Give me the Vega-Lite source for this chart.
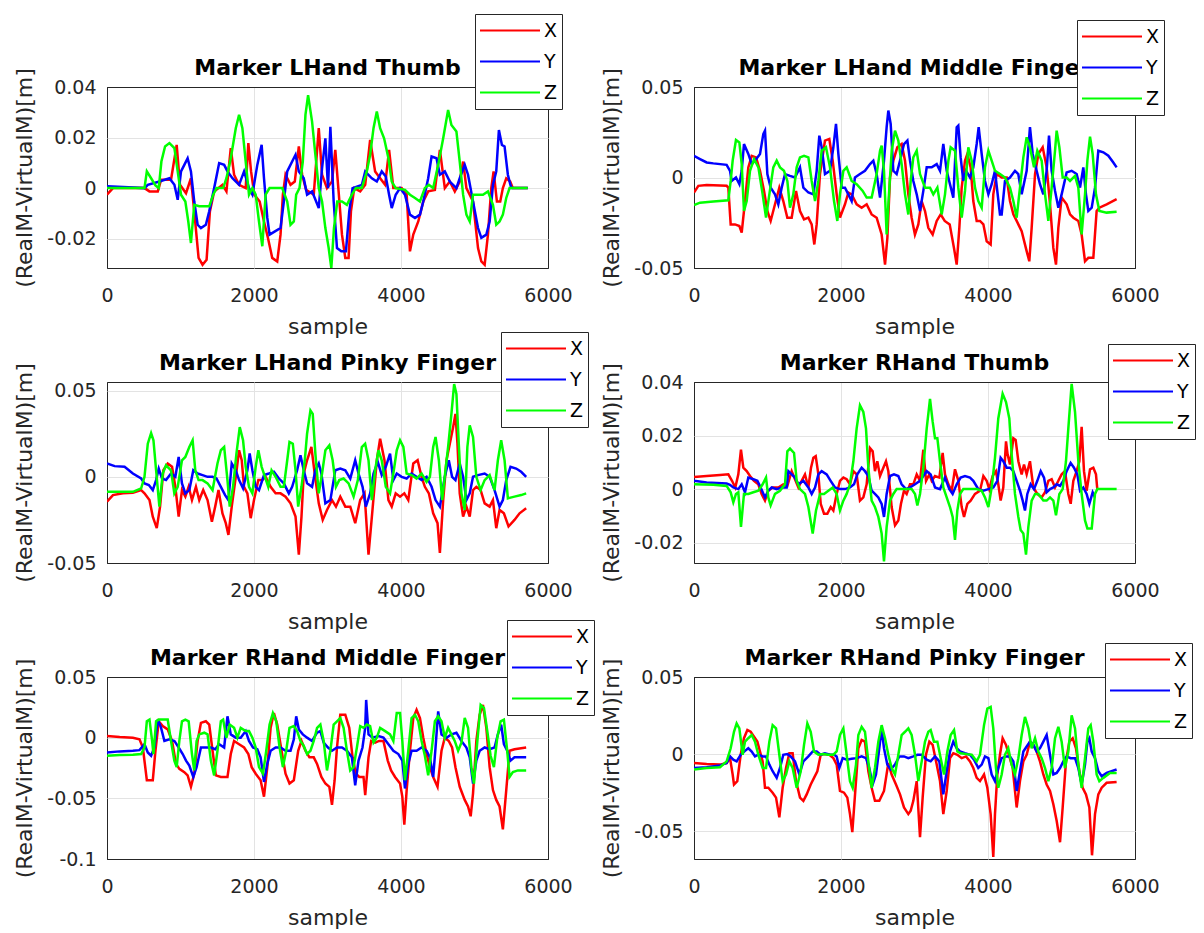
{
"$schema":"https://vega.github.io/schema/vega-lite/v6.json",
"background":"white",
"padding":{"left":13,"top":13,"right":5,"bottom":5},
"config":{
"font":"DejaVu Sans",
"view":{"stroke":"#262626","strokeWidth":1},
"axis":{"domain":false,"ticks":false,"grid":true,"gridWidth":1,"labelFont":"DejaVu Sans","labelFontSize":19,"labelColor":"#262626","labelFlush":false,"labelOverlap":false,"titleFont":"DejaVu Sans","titleFontSize":22,"titleFontWeight":"normal","titleColor":"#262626"},
"axisX":{"labelPadding":18,"titlePadding":11},
"axisY":{"labelPadding":11,"titlePadding":10},
"title":{"font":"DejaVu Sans","fontSize":22,"fontWeight":"bold","color":"#000000","anchor":"middle","frame":"group","baseline":"alphabetic"},
"legend":{"symbolType":"stroke","symbolSize":3600,"symbolStrokeWidth":2,"labelFont":"DejaVu Sans","labelFontSize":19,"labelColor":"#000000","fillColor":"white","strokeColor":"#262626","padding":4,"rowPadding":6,"clipHeight":25,"labelOffset":3,"symbolOffset":0}
},
"datasets":{
"p1":[
{"s":0,"v":-0.0026,"c":"X"},{"s":81,"v":0,"c":"X"},{"s":510,"v":0,"c":"X"},{"s":578,"v":-0.0013,"c":"X"},{"s":691,"v":-0.0013,"c":"X"},{"s":736,"v":0.0033,"c":"X"},{"s":871,"v":0.0033,"c":"X"},{"s":948,"v":0.0171,"c":"X"},{"s":993,"v":0.0013,"c":"X"},{"s":1075,"v":-0.002,"c":"X"},{"s":1142,"v":0.0039,"c":"X"},{"s":1187,"v":-0.0092,"c":"X"},{"s":1246,"v":-0.0276,"c":"X"},{"s":1300,"v":-0.0303,"c":"X"},{"s":1355,"v":-0.0283,"c":"X"},{"s":1400,"v":-0.0092,"c":"X"},{"s":1458,"v":-0.0013,"c":"X"},{"s":1571,"v":0.0013,"c":"X"},{"s":1625,"v":-0.0013,"c":"X"},{"s":1684,"v":0.0158,"c":"X"},{"s":1729,"v":0.0053,"c":"X"},{"s":1797,"v":0.0013,"c":"X"},{"s":1887,"v":0,"c":"X"},{"s":1923,"v":0.0178,"c":"X"},{"s":1960,"v":0.0066,"c":"X"},{"s":2005,"v":-0.0026,"c":"X"},{"s":2077,"v":-0.0053,"c":"X"},{"s":2136,"v":-0.0132,"c":"X"},{"s":2190,"v":-0.0197,"c":"X"},{"s":2248,"v":-0.0276,"c":"X"},{"s":2316,"v":-0.029,"c":"X"},{"s":2361,"v":-0.0184,"c":"X"},{"s":2393,"v":-0.0026,"c":"X"},{"s":2429,"v":0.0053,"c":"X"},{"s":2497,"v":0.0013,"c":"X"},{"s":2555,"v":0.0026,"c":"X"},{"s":2610,"v":0.0165,"c":"X"},{"s":2655,"v":0.0053,"c":"X"},{"s":2709,"v":-0.0007,"c":"X"},{"s":2813,"v":-0.0026,"c":"X"},{"s":2881,"v":0.0237,"c":"X"},{"s":2926,"v":0.0053,"c":"X"},{"s":2993,"v":0,"c":"X"},{"s":3061,"v":0.0026,"c":"X"},{"s":3106,"v":0.0151,"c":"X"},{"s":3151,"v":-0.0013,"c":"X"},{"s":3197,"v":-0.0184,"c":"X"},{"s":3242,"v":-0.0276,"c":"X"},{"s":3287,"v":-0.0276,"c":"X"},{"s":3319,"v":-0.0092,"c":"X"},{"s":3364,"v":0,"c":"X"},{"s":3445,"v":-0.0013,"c":"X"},{"s":3513,"v":0.0013,"c":"X"},{"s":3580,"v":0.0191,"c":"X"},{"s":3648,"v":0.0066,"c":"X"},{"s":3716,"v":0.0039,"c":"X"},{"s":3784,"v":0.0013,"c":"X"},{"s":3838,"v":0.0151,"c":"X"},{"s":3896,"v":0,"c":"X"},{"s":4009,"v":0,"c":"X"},{"s":4077,"v":-0.0026,"c":"X"},{"s":4122,"v":-0.025,"c":"X"},{"s":4167,"v":-0.0184,"c":"X"},{"s":4235,"v":-0.0132,"c":"X"},{"s":4303,"v":-0.0053,"c":"X"},{"s":4370,"v":-0.0013,"c":"X"},{"s":4461,"v":-0.0007,"c":"X"},{"s":4529,"v":0.0151,"c":"X"},{"s":4596,"v":0,"c":"X"},{"s":4664,"v":0.0026,"c":"X"},{"s":4732,"v":-0.0013,"c":"X"},{"s":4799,"v":0.0026,"c":"X"},{"s":4845,"v":0.0105,"c":"X"},{"s":4890,"v":0,"c":"X"},{"s":4980,"v":-0.0053,"c":"X"},{"s":5048,"v":-0.0237,"c":"X"},{"s":5093,"v":-0.029,"c":"X"},{"s":5138,"v":-0.0303,"c":"X"},{"s":5183,"v":-0.0184,"c":"X"},{"s":5228,"v":0,"c":"X"},{"s":5260,"v":0.0066,"c":"X"},{"s":5305,"v":-0.0053,"c":"X"},{"s":5350,"v":-0.0053,"c":"X"},{"s":5386,"v":0,"c":"X"},{"s":5432,"v":0.0039,"c":"X"},{"s":5486,"v":0.0026,"c":"X"},{"s":5522,"v":0,"c":"X"},{"s":5725,"v":0,"c":"X"},
{"s":0,"v":0.0007,"c":"Y"},{"s":510,"v":0,"c":"Y"},{"s":555,"v":0.0013,"c":"Y"},{"s":713,"v":0.0026,"c":"Y"},{"s":849,"v":0.0039,"c":"Y"},{"s":917,"v":0.0013,"c":"Y"},{"s":962,"v":-0.0046,"c":"Y"},{"s":1007,"v":0.0066,"c":"Y"},{"s":1052,"v":0.0092,"c":"Y"},{"s":1097,"v":0.0118,"c":"Y"},{"s":1142,"v":0.0066,"c":"Y"},{"s":1187,"v":-0.0053,"c":"Y"},{"s":1233,"v":-0.0145,"c":"Y"},{"s":1278,"v":-0.0158,"c":"Y"},{"s":1345,"v":-0.0145,"c":"Y"},{"s":1391,"v":-0.0092,"c":"Y"},{"s":1458,"v":0,"c":"Y"},{"s":1526,"v":0.0099,"c":"Y"},{"s":1594,"v":0.0092,"c":"Y"},{"s":1639,"v":0.0066,"c":"Y"},{"s":1707,"v":0.0039,"c":"Y"},{"s":1797,"v":0.0013,"c":"Y"},{"s":1865,"v":0.0066,"c":"Y"},{"s":1932,"v":0,"c":"Y"},{"s":1978,"v":-0.0026,"c":"Y"},{"s":2045,"v":0.0092,"c":"Y"},{"s":2104,"v":0.0171,"c":"Y"},{"s":2136,"v":0.0039,"c":"Y"},{"s":2181,"v":-0.0118,"c":"Y"},{"s":2212,"v":-0.0184,"c":"Y"},{"s":2285,"v":-0.0171,"c":"Y"},{"s":2361,"v":-0.0158,"c":"Y"},{"s":2406,"v":-0.0053,"c":"Y"},{"s":2452,"v":0.0066,"c":"Y"},{"s":2565,"v":0.0132,"c":"Y"},{"s":2610,"v":0.0066,"c":"Y"},{"s":2677,"v":0.0039,"c":"Y"},{"s":2722,"v":-0.0026,"c":"Y"},{"s":2790,"v":-0.0013,"c":"Y"},{"s":2881,"v":-0.0079,"c":"Y"},{"s":2926,"v":0.0079,"c":"Y"},{"s":2971,"v":0.0197,"c":"Y"},{"s":3007,"v":0,"c":"Y"},{"s":3039,"v":0.0243,"c":"Y"},{"s":3084,"v":-0.0053,"c":"Y"},{"s":3129,"v":-0.0237,"c":"Y"},{"s":3188,"v":-0.025,"c":"Y"},{"s":3251,"v":-0.025,"c":"Y"},{"s":3296,"v":-0.0092,"c":"Y"},{"s":3341,"v":0,"c":"Y"},{"s":3468,"v":0.0013,"c":"Y"},{"s":3513,"v":0.0066,"c":"Y"},{"s":3603,"v":0.0039,"c":"Y"},{"s":3671,"v":0.0026,"c":"Y"},{"s":3738,"v":0.0066,"c":"Y"},{"s":3793,"v":0.0046,"c":"Y"},{"s":3838,"v":-0.0026,"c":"Y"},{"s":3874,"v":-0.0079,"c":"Y"},{"s":3928,"v":-0.0026,"c":"Y"},{"s":3987,"v":0,"c":"Y"},{"s":4054,"v":-0.0026,"c":"Y"},{"s":4122,"v":-0.0105,"c":"Y"},{"s":4190,"v":-0.0118,"c":"Y"},{"s":4258,"v":-0.0105,"c":"Y"},{"s":4303,"v":-0.0053,"c":"Y"},{"s":4370,"v":0.0039,"c":"Y"},{"s":4416,"v":0.0125,"c":"Y"},{"s":4483,"v":0.0118,"c":"Y"},{"s":4529,"v":0.0053,"c":"Y"},{"s":4596,"v":0.0066,"c":"Y"},{"s":4664,"v":0.0026,"c":"Y"},{"s":4754,"v":0,"c":"Y"},{"s":4799,"v":0.0039,"c":"Y"},{"s":4867,"v":0.0092,"c":"Y"},{"s":4912,"v":0.0053,"c":"Y"},{"s":4980,"v":-0.0053,"c":"Y"},{"s":5048,"v":-0.0158,"c":"Y"},{"s":5093,"v":-0.0197,"c":"Y"},{"s":5161,"v":-0.0184,"c":"Y"},{"s":5206,"v":-0.0132,"c":"Y"},{"s":5251,"v":0.0013,"c":"Y"},{"s":5296,"v":0.0066,"c":"Y"},{"s":5332,"v":0.023,"c":"Y"},{"s":5373,"v":0.0171,"c":"Y"},{"s":5409,"v":0.0165,"c":"Y"},{"s":5454,"v":0.0053,"c":"Y"},{"s":5500,"v":0,"c":"Y"},{"s":5725,"v":0,"c":"Y"},
{"s":0,"v":0,"c":"Z"},{"s":510,"v":0,"c":"Z"},{"s":542,"v":0.0066,"c":"Z"},{"s":600,"v":0.0039,"c":"Z"},{"s":659,"v":0.0011,"c":"Z"},{"s":704,"v":0,"c":"Z"},{"s":740,"v":0.0105,"c":"Z"},{"s":790,"v":0.0165,"c":"Z"},{"s":849,"v":0.0178,"c":"Z"},{"s":917,"v":0.0158,"c":"Z"},{"s":962,"v":0.0066,"c":"Z"},{"s":1007,"v":-0.0026,"c":"Z"},{"s":1066,"v":-0.0053,"c":"Z"},{"s":1106,"v":-0.0132,"c":"Z"},{"s":1142,"v":-0.0217,"c":"Z"},{"s":1187,"v":-0.0066,"c":"Z"},{"s":1255,"v":-0.0072,"c":"Z"},{"s":1391,"v":-0.0072,"c":"Z"},{"s":1445,"v":-0.0026,"c":"Z"},{"s":1490,"v":0,"c":"Z"},{"s":1580,"v":0,"c":"Z"},{"s":1625,"v":0.0039,"c":"Z"},{"s":1684,"v":0.0118,"c":"Z"},{"s":1752,"v":0.0237,"c":"Z"},{"s":1797,"v":0.029,"c":"Z"},{"s":1842,"v":0.0237,"c":"Z"},{"s":1887,"v":0.0105,"c":"Z"},{"s":1932,"v":-0.0026,"c":"Z"},{"s":1978,"v":0,"c":"Z"},{"s":2023,"v":-0.0026,"c":"Z"},{"s":2068,"v":-0.0132,"c":"Z"},{"s":2113,"v":-0.023,"c":"Z"},{"s":2158,"v":-0.0026,"c":"Z"},{"s":2212,"v":0,"c":"Z"},{"s":2384,"v":0,"c":"Z"},{"s":2452,"v":-0.0053,"c":"Z"},{"s":2497,"v":-0.0145,"c":"Z"},{"s":2542,"v":-0.0132,"c":"Z"},{"s":2574,"v":-0.0026,"c":"Z"},{"s":2619,"v":0,"c":"Z"},{"s":2664,"v":0.0105,"c":"Z"},{"s":2700,"v":0.029,"c":"Z"},{"s":2736,"v":0.0368,"c":"Z"},{"s":2790,"v":0.0263,"c":"Z"},{"s":2835,"v":0.0132,"c":"Z"},{"s":2881,"v":0,"c":"Z"},{"s":2926,"v":-0.0053,"c":"Z"},{"s":2971,"v":-0.0158,"c":"Z"},{"s":3016,"v":-0.0237,"c":"Z"},{"s":3052,"v":-0.0316,"c":"Z"},{"s":3088,"v":-0.0158,"c":"Z"},{"s":3133,"v":-0.0053,"c":"Z"},{"s":3197,"v":-0.0053,"c":"Z"},{"s":3264,"v":-0.0066,"c":"Z"},{"s":3332,"v":-0.0026,"c":"Z"},{"s":3386,"v":0,"c":"Z"},{"s":3468,"v":0,"c":"Z"},{"s":3535,"v":0.0066,"c":"Z"},{"s":3580,"v":0.0132,"c":"Z"},{"s":3626,"v":0.0237,"c":"Z"},{"s":3671,"v":0.0303,"c":"Z"},{"s":3716,"v":0.0237,"c":"Z"},{"s":3770,"v":0.0197,"c":"Z"},{"s":3829,"v":0.0118,"c":"Z"},{"s":3874,"v":0.0026,"c":"Z"},{"s":3928,"v":0,"c":"Z"},{"s":4054,"v":-0.0007,"c":"Z"},{"s":4122,"v":-0.0026,"c":"Z"},{"s":4190,"v":-0.0039,"c":"Z"},{"s":4258,"v":-0.0053,"c":"Z"},{"s":4325,"v":0,"c":"Z"},{"s":4379,"v":0.0013,"c":"Z"},{"s":4438,"v":0,"c":"Z"},{"s":4506,"v":0.0092,"c":"Z"},{"s":4574,"v":0.0197,"c":"Z"},{"s":4641,"v":0.0309,"c":"Z"},{"s":4686,"v":0.025,"c":"Z"},{"s":4754,"v":0.0224,"c":"Z"},{"s":4799,"v":0.0105,"c":"Z"},{"s":4845,"v":-0.0026,"c":"Z"},{"s":4890,"v":-0.0105,"c":"Z"},{"s":4935,"v":-0.0132,"c":"Z"},{"s":4980,"v":-0.0026,"c":"Z"},{"s":5115,"v":-0.0026,"c":"Z"},{"s":5183,"v":-0.0013,"c":"Z"},{"s":5251,"v":-0.0066,"c":"Z"},{"s":5296,"v":-0.0145,"c":"Z"},{"s":5341,"v":-0.0132,"c":"Z"},{"s":5386,"v":-0.0105,"c":"Z"},{"s":5432,"v":-0.0039,"c":"Z"},{"s":5477,"v":0,"c":"Z"},{"s":5725,"v":0,"c":"Z"}
],
"p2":[
{"s":0,"v":-0.0083,"c":"X"},{"s":59,"v":-0.0046,"c":"X"},{"s":172,"v":-0.0041,"c":"X"},{"s":444,"v":-0.0046,"c":"X"},{"s":467,"v":-0.0056,"c":"X"},{"s":499,"v":-0.0259,"c":"X"},{"s":558,"v":-0.0259,"c":"X"},{"s":617,"v":-0.0268,"c":"X"},{"s":649,"v":-0.0305,"c":"X"},{"s":694,"v":-0.013,"c":"X"},{"s":739,"v":0.0056,"c":"X"},{"s":785,"v":0.012,"c":"X"},{"s":844,"v":0.0111,"c":"X"},{"s":898,"v":0.0037,"c":"X"},{"s":953,"v":-0.0074,"c":"X"},{"s":998,"v":-0.0185,"c":"X"},{"s":1043,"v":-0.024,"c":"X"},{"s":1102,"v":-0.0148,"c":"X"},{"s":1161,"v":-0.0056,"c":"X"},{"s":1215,"v":-0.013,"c":"X"},{"s":1270,"v":-0.0222,"c":"X"},{"s":1329,"v":-0.0222,"c":"X"},{"s":1388,"v":-0.0074,"c":"X"},{"s":1442,"v":-0.0185,"c":"X"},{"s":1497,"v":-0.0231,"c":"X"},{"s":1556,"v":-0.0222,"c":"X"},{"s":1601,"v":-0.0259,"c":"X"},{"s":1637,"v":-0.037,"c":"X"},{"s":1669,"v":-0.0259,"c":"X"},{"s":1714,"v":0.0019,"c":"X"},{"s":1782,"v":0.0204,"c":"X"},{"s":1841,"v":0.0213,"c":"X"},{"s":1887,"v":0.0093,"c":"X"},{"s":1941,"v":-0.0093,"c":"X"},{"s":1986,"v":-0.0222,"c":"X"},{"s":2054,"v":-0.0148,"c":"X"},{"s":2100,"v":-0.0083,"c":"X"},{"s":2145,"v":-0.0093,"c":"X"},{"s":2213,"v":-0.0148,"c":"X"},{"s":2281,"v":-0.0167,"c":"X"},{"s":2349,"v":-0.0148,"c":"X"},{"s":2417,"v":-0.0204,"c":"X"},{"s":2485,"v":-0.0222,"c":"X"},{"s":2553,"v":-0.0315,"c":"X"},{"s":2599,"v":-0.0481,"c":"X"},{"s":2631,"v":-0.0333,"c":"X"},{"s":2667,"v":0,"c":"X"},{"s":2712,"v":0.0093,"c":"X"},{"s":2766,"v":0.0167,"c":"X"},{"s":2825,"v":0.0185,"c":"X"},{"s":2871,"v":0.0093,"c":"X"},{"s":2916,"v":-0.0093,"c":"X"},{"s":2961,"v":-0.0222,"c":"X"},{"s":3006,"v":-0.0315,"c":"X"},{"s":3052,"v":-0.0259,"c":"X"},{"s":3097,"v":-0.013,"c":"X"},{"s":3143,"v":-0.0185,"c":"X"},{"s":3188,"v":-0.0278,"c":"X"},{"s":3247,"v":-0.0315,"c":"X"},{"s":3302,"v":-0.024,"c":"X"},{"s":3356,"v":-0.0204,"c":"X"},{"s":3411,"v":-0.024,"c":"X"},{"s":3479,"v":-0.0259,"c":"X"},{"s":3537,"v":-0.0389,"c":"X"},{"s":3574,"v":-0.0481,"c":"X"},{"s":3610,"v":-0.0278,"c":"X"},{"s":3642,"v":-0.0056,"c":"X"},{"s":3687,"v":0.0093,"c":"X"},{"s":3719,"v":0.013,"c":"X"},{"s":3764,"v":0.0056,"c":"X"},{"s":3800,"v":-0.013,"c":"X"},{"s":3846,"v":-0.024,"c":"X"},{"s":3891,"v":-0.024,"c":"X"},{"s":3937,"v":-0.0259,"c":"X"},{"s":3982,"v":-0.0352,"c":"X"},{"s":4036,"v":-0.037,"c":"X"},{"s":4072,"v":-0.0093,"c":"X"},{"s":4118,"v":0.0019,"c":"X"},{"s":4186,"v":0,"c":"X"},{"s":4254,"v":0,"c":"X"},{"s":4299,"v":-0.013,"c":"X"},{"s":4345,"v":-0.0204,"c":"X"},{"s":4390,"v":-0.024,"c":"X"},{"s":4458,"v":-0.0296,"c":"X"},{"s":4526,"v":-0.0407,"c":"X"},{"s":4562,"v":-0.0463,"c":"X"},{"s":4594,"v":-0.0278,"c":"X"},{"s":4640,"v":0.0019,"c":"X"},{"s":4685,"v":0.013,"c":"X"},{"s":4744,"v":0.0167,"c":"X"},{"s":4798,"v":0.0056,"c":"X"},{"s":4844,"v":-0.0148,"c":"X"},{"s":4889,"v":-0.0389,"c":"X"},{"s":4925,"v":-0.0481,"c":"X"},{"s":4957,"v":-0.0278,"c":"X"},{"s":5002,"v":-0.0111,"c":"X"},{"s":5070,"v":-0.0148,"c":"X"},{"s":5116,"v":-0.0204,"c":"X"},{"s":5161,"v":-0.0222,"c":"X"},{"s":5229,"v":-0.024,"c":"X"},{"s":5274,"v":-0.0315,"c":"X"},{"s":5320,"v":-0.0463,"c":"X"},{"s":5365,"v":-0.0444,"c":"X"},{"s":5433,"v":-0.0444,"c":"X"},{"s":5478,"v":-0.0185,"c":"X"},{"s":5515,"v":-0.0167,"c":"X"},{"s":5614,"v":-0.0148,"c":"X"},{"s":5750,"v":-0.012,"c":"X"},
{"s":0,"v":0.012,"c":"Y"},{"s":82,"v":0.0102,"c":"Y"},{"s":172,"v":0.0083,"c":"Y"},{"s":263,"v":0.0078,"c":"Y"},{"s":444,"v":0.007,"c":"Y"},{"s":490,"v":0.0037,"c":"Y"},{"s":512,"v":-0.0019,"c":"Y"},{"s":571,"v":0,"c":"Y"},{"s":617,"v":-0.0037,"c":"Y"},{"s":649,"v":0.0037,"c":"Y"},{"s":680,"v":0.0185,"c":"Y"},{"s":739,"v":0.013,"c":"Y"},{"s":785,"v":0.0074,"c":"Y"},{"s":830,"v":0.0093,"c":"Y"},{"s":898,"v":0.013,"c":"Y"},{"s":943,"v":0.024,"c":"Y"},{"s":966,"v":0.0259,"c":"Y"},{"s":998,"v":0.0019,"c":"Y"},{"s":1043,"v":-0.0056,"c":"Y"},{"s":1102,"v":-0.0093,"c":"Y"},{"s":1147,"v":-0.0148,"c":"Y"},{"s":1193,"v":-0.0056,"c":"Y"},{"s":1238,"v":0.0019,"c":"Y"},{"s":1306,"v":0.0009,"c":"Y"},{"s":1374,"v":0,"c":"Y"},{"s":1442,"v":0.0056,"c":"Y"},{"s":1488,"v":-0.0056,"c":"Y"},{"s":1556,"v":-0.0083,"c":"Y"},{"s":1624,"v":-0.0093,"c":"Y"},{"s":1669,"v":0.0037,"c":"Y"},{"s":1705,"v":0.0231,"c":"Y"},{"s":1737,"v":0.0167,"c":"Y"},{"s":1782,"v":0.0019,"c":"Y"},{"s":1850,"v":0.0037,"c":"Y"},{"s":1896,"v":0.0167,"c":"Y"},{"s":1932,"v":0.0296,"c":"Y"},{"s":1964,"v":0.013,"c":"Y"},{"s":2009,"v":-0.0056,"c":"Y"},{"s":2054,"v":-0.0056,"c":"Y"},{"s":2100,"v":-0.0093,"c":"Y"},{"s":2145,"v":-0.013,"c":"Y"},{"s":2190,"v":0,"c":"Y"},{"s":2258,"v":0.0019,"c":"Y"},{"s":2326,"v":0.0037,"c":"Y"},{"s":2395,"v":0.0074,"c":"Y"},{"s":2440,"v":0.0093,"c":"Y"},{"s":2485,"v":0.0019,"c":"Y"},{"s":2531,"v":-0.0111,"c":"Y"},{"s":2585,"v":0.0093,"c":"Y"},{"s":2621,"v":0.0278,"c":"Y"},{"s":2644,"v":0.037,"c":"Y"},{"s":2676,"v":0.0296,"c":"Y"},{"s":2712,"v":0.0037,"c":"Y"},{"s":2757,"v":0.0019,"c":"Y"},{"s":2803,"v":0.0093,"c":"Y"},{"s":2857,"v":0.0185,"c":"Y"},{"s":2903,"v":0.0204,"c":"Y"},{"s":2939,"v":0.0093,"c":"Y"},{"s":2984,"v":-0.0019,"c":"Y"},{"s":3030,"v":-0.0093,"c":"Y"},{"s":3075,"v":-0.0185,"c":"Y"},{"s":3120,"v":-0.0074,"c":"Y"},{"s":3166,"v":0.0056,"c":"Y"},{"s":3234,"v":0.0056,"c":"Y"},{"s":3302,"v":0.0074,"c":"Y"},{"s":3347,"v":0.0037,"c":"Y"},{"s":3392,"v":0.0185,"c":"Y"},{"s":3438,"v":0.0037,"c":"Y"},{"s":3483,"v":-0.0037,"c":"Y"},{"s":3528,"v":-0.0111,"c":"Y"},{"s":3574,"v":0.0278,"c":"Y"},{"s":3596,"v":0.0287,"c":"Y"},{"s":3628,"v":0.0111,"c":"Y"},{"s":3664,"v":-0.0019,"c":"Y"},{"s":3701,"v":0.0037,"c":"Y"},{"s":3755,"v":0,"c":"Y"},{"s":3800,"v":0.0056,"c":"Y"},{"s":3846,"v":0.0185,"c":"Y"},{"s":3873,"v":0.0278,"c":"Y"},{"s":3914,"v":0.013,"c":"Y"},{"s":3959,"v":-0.0019,"c":"Y"},{"s":4005,"v":-0.0093,"c":"Y"},{"s":4050,"v":-0.0037,"c":"Y"},{"s":4095,"v":0.0037,"c":"Y"},{"s":4163,"v":-0.0204,"c":"Y"},{"s":4186,"v":-0.0204,"c":"Y"},{"s":4231,"v":-0.0019,"c":"Y"},{"s":4299,"v":0,"c":"Y"},{"s":4367,"v":0.0037,"c":"Y"},{"s":4412,"v":0.0019,"c":"Y"},{"s":4458,"v":-0.0093,"c":"Y"},{"s":4526,"v":0.0037,"c":"Y"},{"s":4571,"v":0.0278,"c":"Y"},{"s":4608,"v":0.013,"c":"Y"},{"s":4662,"v":0.0037,"c":"Y"},{"s":4707,"v":-0.0037,"c":"Y"},{"s":4753,"v":-0.0093,"c":"Y"},{"s":4798,"v":0.0037,"c":"Y"},{"s":4830,"v":0.0231,"c":"Y"},{"s":4866,"v":0.0037,"c":"Y"},{"s":4912,"v":-0.0074,"c":"Y"},{"s":4957,"v":-0.0167,"c":"Y"},{"s":5002,"v":-0.0093,"c":"Y"},{"s":5070,"v":0.0028,"c":"Y"},{"s":5138,"v":0.0037,"c":"Y"},{"s":5206,"v":0.0019,"c":"Y"},{"s":5252,"v":-0.0056,"c":"Y"},{"s":5297,"v":0.0056,"c":"Y"},{"s":5333,"v":-0.0093,"c":"Y"},{"s":5365,"v":-0.0185,"c":"Y"},{"s":5411,"v":-0.0167,"c":"Y"},{"s":5456,"v":-0.0056,"c":"Y"},{"s":5501,"v":0.0148,"c":"Y"},{"s":5569,"v":0.0139,"c":"Y"},{"s":5637,"v":0.012,"c":"Y"},{"s":5705,"v":0.0083,"c":"Y"},{"s":5750,"v":0.0056,"c":"Y"},
{"s":0,"v":-0.0152,"c":"Z"},{"s":82,"v":-0.0139,"c":"Z"},{"s":263,"v":-0.0133,"c":"Z"},{"s":467,"v":-0.0126,"c":"Z"},{"s":499,"v":-0.0019,"c":"Z"},{"s":526,"v":0.0093,"c":"Z"},{"s":571,"v":0.0207,"c":"Z"},{"s":617,"v":0.0194,"c":"Z"},{"s":649,"v":0.0074,"c":"Z"},{"s":680,"v":-0.0185,"c":"Z"},{"s":717,"v":-0.013,"c":"Z"},{"s":762,"v":0.0037,"c":"Z"},{"s":817,"v":0.0102,"c":"Z"},{"s":876,"v":0.0056,"c":"Z"},{"s":934,"v":-0.0093,"c":"Z"},{"s":980,"v":-0.0222,"c":"Z"},{"s":1025,"v":-0.0093,"c":"Z"},{"s":1079,"v":0.0056,"c":"Z"},{"s":1125,"v":0.0093,"c":"Z"},{"s":1170,"v":0.0056,"c":"Z"},{"s":1224,"v":0.0037,"c":"Z"},{"s":1270,"v":-0.0019,"c":"Z"},{"s":1306,"v":-0.0167,"c":"Z"},{"s":1351,"v":-0.0093,"c":"Z"},{"s":1397,"v":0.0056,"c":"Z"},{"s":1442,"v":0.0111,"c":"Z"},{"s":1497,"v":0.012,"c":"Z"},{"s":1556,"v":0.0111,"c":"Z"},{"s":1601,"v":-0.0019,"c":"Z"},{"s":1647,"v":-0.013,"c":"Z"},{"s":1692,"v":-0.0019,"c":"Z"},{"s":1737,"v":0.0148,"c":"Z"},{"s":1796,"v":0.0167,"c":"Z"},{"s":1850,"v":0.0056,"c":"Z"},{"s":1905,"v":-0.013,"c":"Z"},{"s":1950,"v":-0.024,"c":"Z"},{"s":1986,"v":-0.0093,"c":"Z"},{"s":2032,"v":0.0037,"c":"Z"},{"s":2077,"v":0.0056,"c":"Z"},{"s":2145,"v":-0.0019,"c":"Z"},{"s":2213,"v":-0.0037,"c":"Z"},{"s":2295,"v":-0.0074,"c":"Z"},{"s":2349,"v":-0.0111,"c":"Z"},{"s":2417,"v":-0.0111,"c":"Z"},{"s":2485,"v":0.0019,"c":"Z"},{"s":2531,"v":0.0148,"c":"Z"},{"s":2553,"v":0.0176,"c":"Z"},{"s":2585,"v":0.0037,"c":"Z"},{"s":2621,"v":-0.0315,"c":"Z"},{"s":2658,"v":-0.0056,"c":"Z"},{"s":2690,"v":0.0148,"c":"Z"},{"s":2735,"v":0.0259,"c":"Z"},{"s":2780,"v":0.0204,"c":"Z"},{"s":2825,"v":0.0074,"c":"Z"},{"s":2871,"v":-0.0093,"c":"Z"},{"s":2916,"v":-0.0204,"c":"Z"},{"s":2948,"v":-0.0019,"c":"Z"},{"s":2984,"v":0.0111,"c":"Z"},{"s":3030,"v":0.0148,"c":"Z"},{"s":3075,"v":0.0019,"c":"Z"},{"s":3143,"v":-0.0056,"c":"Z"},{"s":3211,"v":-0.0056,"c":"Z"},{"s":3256,"v":-0.0093,"c":"Z"},{"s":3311,"v":-0.0056,"c":"Z"},{"s":3370,"v":-0.0204,"c":"Z"},{"s":3415,"v":-0.0093,"c":"Z"},{"s":3461,"v":0.0093,"c":"Z"},{"s":3492,"v":0.0167,"c":"Z"},{"s":3551,"v":0.0148,"c":"Z"},{"s":3596,"v":-0.0056,"c":"Z"},{"s":3642,"v":-0.0222,"c":"Z"},{"s":3687,"v":-0.0074,"c":"Z"},{"s":3732,"v":0.0167,"c":"Z"},{"s":3778,"v":0.0093,"c":"Z"},{"s":3823,"v":-0.0056,"c":"Z"},{"s":3868,"v":-0.013,"c":"Z"},{"s":3914,"v":-0.0167,"c":"Z"},{"s":3959,"v":0.0056,"c":"Z"},{"s":4005,"v":0.0148,"c":"Z"},{"s":4050,"v":0.0093,"c":"Z"},{"s":4095,"v":0.0037,"c":"Z"},{"s":4163,"v":0.0019,"c":"Z"},{"s":4231,"v":0,"c":"Z"},{"s":4299,"v":-0.0056,"c":"Z"},{"s":4345,"v":-0.013,"c":"Z"},{"s":4390,"v":-0.0222,"c":"Z"},{"s":4435,"v":-0.0056,"c":"Z"},{"s":4481,"v":0.0111,"c":"Z"},{"s":4526,"v":0.0222,"c":"Z"},{"s":4571,"v":0.0167,"c":"Z"},{"s":4626,"v":0.0056,"c":"Z"},{"s":4671,"v":0.0148,"c":"Z"},{"s":4730,"v":0.0093,"c":"Z"},{"s":4776,"v":-0.0093,"c":"Z"},{"s":4821,"v":-0.024,"c":"Z"},{"s":4866,"v":-0.0056,"c":"Z"},{"s":4912,"v":0.0148,"c":"Z"},{"s":4934,"v":0.0259,"c":"Z"},{"s":4971,"v":0.0167,"c":"Z"},{"s":5016,"v":0,"c":"Z"},{"s":5070,"v":0,"c":"Z"},{"s":5116,"v":-0.0019,"c":"Z"},{"s":5184,"v":0.0009,"c":"Z"},{"s":5229,"v":-0.0056,"c":"Z"},{"s":5274,"v":-0.0315,"c":"Z"},{"s":5320,"v":-0.0093,"c":"Z"},{"s":5352,"v":0.0093,"c":"Z"},{"s":5388,"v":0.0226,"c":"Z"},{"s":5424,"v":0.013,"c":"Z"},{"s":5469,"v":-0.0093,"c":"Z"},{"s":5515,"v":-0.0185,"c":"Z"},{"s":5614,"v":-0.0194,"c":"Z"},{"s":5750,"v":-0.0189,"c":"Z"}
],
"p3":[
{"s":0,"v":-0.0144,"c":"X"},{"s":81,"v":-0.0106,"c":"X"},{"s":217,"v":-0.0096,"c":"X"},{"s":352,"v":-0.0092,"c":"X"},{"s":465,"v":-0.0077,"c":"X"},{"s":510,"v":-0.0096,"c":"X"},{"s":578,"v":-0.0135,"c":"X"},{"s":623,"v":-0.0231,"c":"X"},{"s":677,"v":-0.0298,"c":"X"},{"s":722,"v":-0.0173,"c":"X"},{"s":767,"v":0.0038,"c":"X"},{"s":826,"v":0.0077,"c":"X"},{"s":885,"v":0.0058,"c":"X"},{"s":930,"v":-0.0058,"c":"X"},{"s":975,"v":-0.0231,"c":"X"},{"s":1020,"v":-0.0077,"c":"X"},{"s":1066,"v":-0.0115,"c":"X"},{"s":1111,"v":-0.0058,"c":"X"},{"s":1156,"v":-0.0135,"c":"X"},{"s":1210,"v":-0.0058,"c":"X"},{"s":1255,"v":-0.0135,"c":"X"},{"s":1309,"v":-0.0077,"c":"X"},{"s":1368,"v":-0.0135,"c":"X"},{"s":1427,"v":-0.026,"c":"X"},{"s":1472,"v":-0.0173,"c":"X"},{"s":1517,"v":-0.0077,"c":"X"},{"s":1571,"v":-0.0212,"c":"X"},{"s":1616,"v":-0.0269,"c":"X"},{"s":1652,"v":-0.0337,"c":"X"},{"s":1697,"v":-0.0173,"c":"X"},{"s":1752,"v":0,"c":"X"},{"s":1797,"v":0.0154,"c":"X"},{"s":1833,"v":0.0096,"c":"X"},{"s":1864,"v":-0.0058,"c":"X"},{"s":1910,"v":-0.0096,"c":"X"},{"s":1955,"v":-0.024,"c":"X"},{"s":2000,"v":-0.0135,"c":"X"},{"s":2059,"v":-0.0019,"c":"X"},{"s":2113,"v":-0.0019,"c":"X"},{"s":2158,"v":0,"c":"X"},{"s":2226,"v":-0.0058,"c":"X"},{"s":2294,"v":-0.0096,"c":"X"},{"s":2361,"v":-0.0096,"c":"X"},{"s":2429,"v":-0.0115,"c":"X"},{"s":2497,"v":-0.0154,"c":"X"},{"s":2565,"v":-0.0231,"c":"X"},{"s":2610,"v":-0.0452,"c":"X"},{"s":2646,"v":-0.0231,"c":"X"},{"s":2677,"v":0.0019,"c":"X"},{"s":2722,"v":0.0096,"c":"X"},{"s":2781,"v":0.0173,"c":"X"},{"s":2826,"v":0.0019,"c":"X"},{"s":2881,"v":-0.0154,"c":"X"},{"s":2935,"v":-0.025,"c":"X"},{"s":2993,"v":-0.0192,"c":"X"},{"s":3061,"v":-0.0135,"c":"X"},{"s":3115,"v":-0.0173,"c":"X"},{"s":3174,"v":-0.0115,"c":"X"},{"s":3242,"v":-0.0173,"c":"X"},{"s":3310,"v":-0.0173,"c":"X"},{"s":3377,"v":-0.0269,"c":"X"},{"s":3445,"v":-0.0135,"c":"X"},{"s":3504,"v":-0.0096,"c":"X"},{"s":3558,"v":-0.0452,"c":"X"},{"s":3612,"v":-0.0192,"c":"X"},{"s":3671,"v":0.0096,"c":"X"},{"s":3716,"v":0.0221,"c":"X"},{"s":3775,"v":0.0096,"c":"X"},{"s":3829,"v":-0.0135,"c":"X"},{"s":3874,"v":-0.0173,"c":"X"},{"s":3928,"v":-0.0096,"c":"X"},{"s":3987,"v":-0.0115,"c":"X"},{"s":4045,"v":-0.0096,"c":"X"},{"s":4099,"v":-0.0135,"c":"X"},{"s":4167,"v":0.0077,"c":"X"},{"s":4226,"v":0.0096,"c":"X"},{"s":4280,"v":0,"c":"X"},{"s":4325,"v":-0.0058,"c":"X"},{"s":4379,"v":-0.0096,"c":"X"},{"s":4438,"v":-0.0212,"c":"X"},{"s":4497,"v":-0.0269,"c":"X"},{"s":4529,"v":-0.0442,"c":"X"},{"s":4574,"v":-0.0135,"c":"X"},{"s":4619,"v":0.0096,"c":"X"},{"s":4664,"v":0.0192,"c":"X"},{"s":4709,"v":0.0288,"c":"X"},{"s":4741,"v":0.0365,"c":"X"},{"s":4768,"v":0.0192,"c":"X"},{"s":4799,"v":-0.0096,"c":"X"},{"s":4845,"v":-0.0231,"c":"X"},{"s":4890,"v":-0.0173,"c":"X"},{"s":4935,"v":-0.0231,"c":"X"},{"s":4980,"v":-0.0077,"c":"X"},{"s":5025,"v":-0.0058,"c":"X"},{"s":5083,"v":-0.0077,"c":"X"},{"s":5138,"v":-0.0154,"c":"X"},{"s":5206,"v":-0.0173,"c":"X"},{"s":5251,"v":-0.0135,"c":"X"},{"s":5296,"v":-0.0298,"c":"X"},{"s":5341,"v":-0.0192,"c":"X"},{"s":5400,"v":-0.0212,"c":"X"},{"s":5463,"v":-0.0288,"c":"X"},{"s":5544,"v":-0.025,"c":"X"},{"s":5613,"v":-0.0212,"c":"X"},{"s":5703,"v":-0.0183,"c":"X"},
{"s":0,"v":0.0077,"c":"Y"},{"s":104,"v":0.0062,"c":"Y"},{"s":239,"v":0.0058,"c":"Y"},{"s":352,"v":0.0019,"c":"Y"},{"s":465,"v":-0.001,"c":"Y"},{"s":510,"v":-0.0038,"c":"Y"},{"s":569,"v":-0.0048,"c":"Y"},{"s":623,"v":-0.0077,"c":"Y"},{"s":668,"v":-0.0019,"c":"Y"},{"s":704,"v":0.0048,"c":"Y"},{"s":749,"v":-0.001,"c":"Y"},{"s":803,"v":-0.0019,"c":"Y"},{"s":871,"v":0.0019,"c":"Y"},{"s":930,"v":0,"c":"Y"},{"s":975,"v":0.0115,"c":"Y"},{"s":1020,"v":-0.0038,"c":"Y"},{"s":1066,"v":-0.0096,"c":"Y"},{"s":1120,"v":-0.0077,"c":"Y"},{"s":1174,"v":0.0038,"c":"Y"},{"s":1233,"v":0.0019,"c":"Y"},{"s":1300,"v":0.001,"c":"Y"},{"s":1368,"v":0,"c":"Y"},{"s":1436,"v":0,"c":"Y"},{"s":1490,"v":-0.001,"c":"Y"},{"s":1549,"v":-0.0058,"c":"Y"},{"s":1607,"v":-0.0106,"c":"Y"},{"s":1652,"v":-0.0135,"c":"Y"},{"s":1697,"v":0.0077,"c":"Y"},{"s":1752,"v":0.0038,"c":"Y"},{"s":1797,"v":-0.0019,"c":"Y"},{"s":1851,"v":-0.0067,"c":"Y"},{"s":1910,"v":0.0038,"c":"Y"},{"s":1941,"v":0.0135,"c":"Y"},{"s":1978,"v":0.0038,"c":"Y"},{"s":2023,"v":-0.0058,"c":"Y"},{"s":2068,"v":-0.0077,"c":"Y"},{"s":2136,"v":0.001,"c":"Y"},{"s":2203,"v":0.0019,"c":"Y"},{"s":2271,"v":0.0029,"c":"Y"},{"s":2339,"v":-0.001,"c":"Y"},{"s":2406,"v":-0.0038,"c":"Y"},{"s":2474,"v":-0.0096,"c":"Y"},{"s":2519,"v":-0.0058,"c":"Y"},{"s":2587,"v":0.0038,"c":"Y"},{"s":2632,"v":0.0125,"c":"Y"},{"s":2677,"v":0.0038,"c":"Y"},{"s":2722,"v":-0.0038,"c":"Y"},{"s":2790,"v":-0.0058,"c":"Y"},{"s":2835,"v":0.0038,"c":"Y"},{"s":2881,"v":0.0077,"c":"Y"},{"s":2917,"v":0.0019,"c":"Y"},{"s":2971,"v":-0.0154,"c":"Y"},{"s":3039,"v":-0.0135,"c":"Y"},{"s":3106,"v":0.0038,"c":"Y"},{"s":3174,"v":0.0048,"c":"Y"},{"s":3242,"v":0.0038,"c":"Y"},{"s":3310,"v":-0.001,"c":"Y"},{"s":3377,"v":0.0096,"c":"Y"},{"s":3422,"v":0.0019,"c":"Y"},{"s":3477,"v":-0.0058,"c":"Y"},{"s":3522,"v":-0.0173,"c":"Y"},{"s":3580,"v":-0.0096,"c":"Y"},{"s":3626,"v":0.0019,"c":"Y"},{"s":3684,"v":0.0087,"c":"Y"},{"s":3738,"v":0.001,"c":"Y"},{"s":3793,"v":0.0058,"c":"Y"},{"s":3851,"v":0.0135,"c":"Y"},{"s":3896,"v":-0.0019,"c":"Y"},{"s":3942,"v":0.0019,"c":"Y"},{"s":4009,"v":0,"c":"Y"},{"s":4077,"v":-0.001,"c":"Y"},{"s":4144,"v":0.0019,"c":"Y"},{"s":4212,"v":0,"c":"Y"},{"s":4280,"v":-0.0019,"c":"Y"},{"s":4348,"v":0,"c":"Y"},{"s":4416,"v":-0.0058,"c":"Y"},{"s":4470,"v":-0.0135,"c":"Y"},{"s":4529,"v":-0.0173,"c":"Y"},{"s":4596,"v":0,"c":"Y"},{"s":4650,"v":0.0096,"c":"Y"},{"s":4695,"v":0,"c":"Y"},{"s":4741,"v":-0.0019,"c":"Y"},{"s":4799,"v":0.0077,"c":"Y"},{"s":4845,"v":0,"c":"Y"},{"s":4890,"v":-0.0135,"c":"Y"},{"s":4935,"v":-0.0096,"c":"Y"},{"s":4980,"v":0,"c":"Y"},{"s":5048,"v":0.001,"c":"Y"},{"s":5138,"v":0.0019,"c":"Y"},{"s":5206,"v":0,"c":"Y"},{"s":5273,"v":-0.0077,"c":"Y"},{"s":5341,"v":-0.0173,"c":"Y"},{"s":5386,"v":-0.0135,"c":"Y"},{"s":5432,"v":-0.0019,"c":"Y"},{"s":5490,"v":0.0058,"c":"Y"},{"s":5567,"v":0.0048,"c":"Y"},{"s":5635,"v":0.0029,"c":"Y"},{"s":5703,"v":0,"c":"Y"},
{"s":0,"v":-0.0087,"c":"Z"},{"s":172,"v":-0.0087,"c":"Z"},{"s":352,"v":-0.0087,"c":"Z"},{"s":465,"v":-0.0067,"c":"Z"},{"s":510,"v":0,"c":"Z"},{"s":555,"v":0.0192,"c":"Z"},{"s":600,"v":0.0254,"c":"Z"},{"s":632,"v":0.0212,"c":"Z"},{"s":668,"v":0.0038,"c":"Z"},{"s":713,"v":-0.0173,"c":"Z"},{"s":758,"v":0.0019,"c":"Z"},{"s":803,"v":0.0067,"c":"Z"},{"s":871,"v":0.0038,"c":"Z"},{"s":916,"v":-0.0096,"c":"Z"},{"s":962,"v":-0.0058,"c":"Z"},{"s":1020,"v":0.0096,"c":"Z"},{"s":1066,"v":0.0115,"c":"Z"},{"s":1120,"v":0.0173,"c":"Z"},{"s":1165,"v":0.0212,"c":"Z"},{"s":1201,"v":0.0038,"c":"Z"},{"s":1246,"v":-0.0019,"c":"Z"},{"s":1300,"v":-0.0019,"c":"Z"},{"s":1368,"v":-0.0038,"c":"Z"},{"s":1436,"v":-0.0077,"c":"Z"},{"s":1503,"v":0.0077,"c":"Z"},{"s":1549,"v":0.0154,"c":"Z"},{"s":1594,"v":0.0173,"c":"Z"},{"s":1639,"v":-0.0019,"c":"Z"},{"s":1670,"v":-0.0173,"c":"Z"},{"s":1715,"v":-0.0058,"c":"Z"},{"s":1761,"v":0.0135,"c":"Z"},{"s":1806,"v":0.0288,"c":"Z"},{"s":1851,"v":0.0212,"c":"Z"},{"s":1887,"v":0.0058,"c":"Z"},{"s":1932,"v":-0.0058,"c":"Z"},{"s":1978,"v":-0.0096,"c":"Z"},{"s":2023,"v":0.0058,"c":"Z"},{"s":2059,"v":0.0154,"c":"Z"},{"s":2104,"v":0.0058,"c":"Z"},{"s":2149,"v":0,"c":"Z"},{"s":2194,"v":-0.0058,"c":"Z"},{"s":2239,"v":0.0038,"c":"Z"},{"s":2294,"v":0,"c":"Z"},{"s":2361,"v":-0.0058,"c":"Z"},{"s":2406,"v":-0.0058,"c":"Z"},{"s":2452,"v":0.0096,"c":"Z"},{"s":2483,"v":0.0202,"c":"Z"},{"s":2528,"v":0.0192,"c":"Z"},{"s":2565,"v":0.0038,"c":"Z"},{"s":2601,"v":-0.0173,"c":"Z"},{"s":2646,"v":-0.0058,"c":"Z"},{"s":2691,"v":0.0096,"c":"Z"},{"s":2722,"v":0.025,"c":"Z"},{"s":2768,"v":0.0385,"c":"Z"},{"s":2799,"v":0.0365,"c":"Z"},{"s":2835,"v":0.0135,"c":"Z"},{"s":2881,"v":-0.0096,"c":"Z"},{"s":2926,"v":0.0019,"c":"Z"},{"s":2971,"v":0.0154,"c":"Z"},{"s":3025,"v":0.0183,"c":"Z"},{"s":3070,"v":0.0096,"c":"Z"},{"s":3115,"v":-0.0058,"c":"Z"},{"s":3160,"v":-0.0019,"c":"Z"},{"s":3219,"v":-0.001,"c":"Z"},{"s":3287,"v":-0.0038,"c":"Z"},{"s":3355,"v":-0.0115,"c":"Z"},{"s":3413,"v":-0.0019,"c":"Z"},{"s":3467,"v":0.0173,"c":"Z"},{"s":3512,"v":0.0192,"c":"Z"},{"s":3558,"v":0.0096,"c":"Z"},{"s":3603,"v":-0.0135,"c":"Z"},{"s":3648,"v":0.0038,"c":"Z"},{"s":3693,"v":0.0154,"c":"Z"},{"s":3738,"v":0.0096,"c":"Z"},{"s":3793,"v":-0.0058,"c":"Z"},{"s":3851,"v":-0.0096,"c":"Z"},{"s":3896,"v":0.0019,"c":"Z"},{"s":3942,"v":0.0154,"c":"Z"},{"s":3987,"v":0.0212,"c":"Z"},{"s":4032,"v":0.0173,"c":"Z"},{"s":4077,"v":0.0019,"c":"Z"},{"s":4144,"v":0.001,"c":"Z"},{"s":4212,"v":-0.001,"c":"Z"},{"s":4280,"v":0.0019,"c":"Z"},{"s":4348,"v":-0.0029,"c":"Z"},{"s":4393,"v":0,"c":"Z"},{"s":4438,"v":0.0173,"c":"Z"},{"s":4470,"v":0.0231,"c":"Z"},{"s":4515,"v":0.0096,"c":"Z"},{"s":4560,"v":-0.0135,"c":"Z"},{"s":4605,"v":0.0038,"c":"Z"},{"s":4641,"v":0.0173,"c":"Z"},{"s":4686,"v":0.0365,"c":"Z"},{"s":4723,"v":0.0538,"c":"Z"},{"s":4754,"v":0.0481,"c":"Z"},{"s":4786,"v":0.0192,"c":"Z"},{"s":4822,"v":-0.0096,"c":"Z"},{"s":4867,"v":-0.0192,"c":"Z"},{"s":4903,"v":0.0173,"c":"Z"},{"s":4935,"v":0.0298,"c":"Z"},{"s":4980,"v":0.0231,"c":"Z"},{"s":5025,"v":0,"c":"Z"},{"s":5083,"v":-0.0077,"c":"Z"},{"s":5138,"v":-0.0019,"c":"Z"},{"s":5206,"v":0.001,"c":"Z"},{"s":5273,"v":-0.0077,"c":"Z"},{"s":5318,"v":0.0096,"c":"Z"},{"s":5363,"v":0.0212,"c":"Z"},{"s":5409,"v":0.0096,"c":"Z"},{"s":5454,"v":-0.0125,"c":"Z"},{"s":5544,"v":-0.0115,"c":"Z"},{"s":5635,"v":-0.0106,"c":"Z"},{"s":5703,"v":-0.0096,"c":"Z"}
],
"p4":[
{"s":0,"v":0.0045,"c":"X"},{"s":172,"v":0.0049,"c":"X"},{"s":354,"v":0.0053,"c":"X"},{"s":467,"v":0.0055,"c":"X"},{"s":517,"v":0.0031,"c":"X"},{"s":562,"v":0.0006,"c":"X"},{"s":603,"v":0.0055,"c":"X"},{"s":639,"v":0.0147,"c":"X"},{"s":671,"v":0.008,"c":"X"},{"s":717,"v":0.0067,"c":"X"},{"s":762,"v":0.0049,"c":"X"},{"s":816,"v":0.0031,"c":"X"},{"s":875,"v":0.0018,"c":"X"},{"s":920,"v":-0.0018,"c":"X"},{"s":966,"v":-0.0043,"c":"X"},{"s":1011,"v":-0.0006,"c":"X"},{"s":1070,"v":0.0006,"c":"X"},{"s":1147,"v":0.0006,"c":"X"},{"s":1215,"v":0.0018,"c":"X"},{"s":1270,"v":0.0012,"c":"X"},{"s":1329,"v":0.0067,"c":"X"},{"s":1374,"v":0.0037,"c":"X"},{"s":1420,"v":0.0006,"c":"X"},{"s":1465,"v":0.0031,"c":"X"},{"s":1510,"v":0.0055,"c":"X"},{"s":1556,"v":0.0006,"c":"X"},{"s":1592,"v":0.008,"c":"X"},{"s":1624,"v":0.0117,"c":"X"},{"s":1656,"v":0.0123,"c":"X"},{"s":1692,"v":0.0055,"c":"X"},{"s":1724,"v":-0.0055,"c":"X"},{"s":1769,"v":-0.0092,"c":"X"},{"s":1814,"v":-0.0092,"c":"X"},{"s":1860,"v":-0.0067,"c":"X"},{"s":1896,"v":-0.008,"c":"X"},{"s":1941,"v":-0.0018,"c":"X"},{"s":1986,"v":0.0031,"c":"X"},{"s":2032,"v":0.0043,"c":"X"},{"s":2077,"v":0.0037,"c":"X"},{"s":2122,"v":0.0018,"c":"X"},{"s":2168,"v":0.0067,"c":"X"},{"s":2213,"v":0.0055,"c":"X"},{"s":2258,"v":-0.0043,"c":"X"},{"s":2304,"v":-0.0031,"c":"X"},{"s":2349,"v":0.0018,"c":"X"},{"s":2395,"v":0.0153,"c":"X"},{"s":2431,"v":0.0141,"c":"X"},{"s":2462,"v":0.0067,"c":"X"},{"s":2494,"v":0.0104,"c":"X"},{"s":2531,"v":0.0049,"c":"X"},{"s":2576,"v":0.008,"c":"X"},{"s":2612,"v":0.0104,"c":"X"},{"s":2644,"v":0.0067,"c":"X"},{"s":2689,"v":-0.0067,"c":"X"},{"s":2735,"v":-0.0135,"c":"X"},{"s":2780,"v":-0.0117,"c":"X"},{"s":2816,"v":-0.0055,"c":"X"},{"s":2857,"v":-0.0006,"c":"X"},{"s":2893,"v":-0.0018,"c":"X"},{"s":2939,"v":0.0018,"c":"X"},{"s":2984,"v":0.0018,"c":"X"},{"s":3030,"v":0.0055,"c":"X"},{"s":3075,"v":0.0031,"c":"X"},{"s":3120,"v":0.0147,"c":"X"},{"s":3157,"v":0.0031,"c":"X"},{"s":3202,"v":0.0055,"c":"X"},{"s":3234,"v":0.0031,"c":"X"},{"s":3279,"v":0.0049,"c":"X"},{"s":3338,"v":0.0043,"c":"X"},{"s":3383,"v":0.0135,"c":"X"},{"s":3415,"v":0.0055,"c":"X"},{"s":3461,"v":0.0018,"c":"X"},{"s":3506,"v":-0.0006,"c":"X"},{"s":3551,"v":0.0074,"c":"X"},{"s":3597,"v":0.0031,"c":"X"},{"s":3642,"v":-0.0067,"c":"X"},{"s":3674,"v":-0.0104,"c":"X"},{"s":3719,"v":-0.0055,"c":"X"},{"s":3764,"v":-0.0043,"c":"X"},{"s":3823,"v":-0.0018,"c":"X"},{"s":3891,"v":-0.0006,"c":"X"},{"s":3937,"v":0.0049,"c":"X"},{"s":3982,"v":0.0031,"c":"X"},{"s":4018,"v":0,"c":"X"},{"s":4063,"v":0.0049,"c":"X"},{"s":4108,"v":0.0067,"c":"X"},{"s":4140,"v":0.0018,"c":"X"},{"s":4172,"v":-0.0043,"c":"X"},{"s":4208,"v":0.0006,"c":"X"},{"s":4245,"v":0.0178,"c":"X"},{"s":4267,"v":0.0129,"c":"X"},{"s":4299,"v":0.0092,"c":"X"},{"s":4345,"v":0.019,"c":"X"},{"s":4376,"v":0.0184,"c":"X"},{"s":4413,"v":0.0104,"c":"X"},{"s":4458,"v":0.0055,"c":"X"},{"s":4490,"v":0.0092,"c":"X"},{"s":4526,"v":0.0055,"c":"X"},{"s":4571,"v":0.0104,"c":"X"},{"s":4617,"v":0.0006,"c":"X"},{"s":4671,"v":-0.0018,"c":"X"},{"s":4730,"v":-0.0031,"c":"X"},{"s":4776,"v":-0.0012,"c":"X"},{"s":4821,"v":0.0031,"c":"X"},{"s":4866,"v":0.0037,"c":"X"},{"s":4912,"v":0.0006,"c":"X"},{"s":4957,"v":0.0031,"c":"X"},{"s":5002,"v":0.0055,"c":"X"},{"s":5047,"v":0.0067,"c":"X"},{"s":5093,"v":-0.0018,"c":"X"},{"s":5125,"v":-0.0055,"c":"X"},{"s":5161,"v":0.0031,"c":"X"},{"s":5206,"v":0.0067,"c":"X"},{"s":5243,"v":0.0104,"c":"X"},{"s":5274,"v":0.0233,"c":"X"},{"s":5306,"v":0.0067,"c":"X"},{"s":5342,"v":-0.0006,"c":"X"},{"s":5388,"v":0.0074,"c":"X"},{"s":5433,"v":0.008,"c":"X"},{"s":5469,"v":0.0055,"c":"X"},{"s":5487,"v":0,"c":"X"},
{"s":0,"v":0.0031,"c":"Y"},{"s":172,"v":0.0025,"c":"Y"},{"s":444,"v":0.0021,"c":"Y"},{"s":489,"v":0.0016,"c":"Y"},{"s":535,"v":0.0006,"c":"Y"},{"s":603,"v":0,"c":"Y"},{"s":649,"v":0.0018,"c":"Y"},{"s":694,"v":-0.0012,"c":"Y"},{"s":739,"v":0.0043,"c":"Y"},{"s":807,"v":0.0037,"c":"Y"},{"s":862,"v":0.0031,"c":"Y"},{"s":907,"v":0.0006,"c":"Y"},{"s":966,"v":-0.0031,"c":"Y"},{"s":1011,"v":-0.0006,"c":"Y"},{"s":1057,"v":0.0006,"c":"Y"},{"s":1125,"v":0,"c":"Y"},{"s":1193,"v":0.0006,"c":"Y"},{"s":1261,"v":0.0006,"c":"Y"},{"s":1284,"v":0.0067,"c":"Y"},{"s":1329,"v":0.0055,"c":"Y"},{"s":1374,"v":0.0043,"c":"Y"},{"s":1420,"v":0.0018,"c":"Y"},{"s":1488,"v":0.0031,"c":"Y"},{"s":1556,"v":0.0006,"c":"Y"},{"s":1601,"v":-0.0018,"c":"Y"},{"s":1647,"v":0.0006,"c":"Y"},{"s":1692,"v":0.0055,"c":"Y"},{"s":1737,"v":0.0067,"c":"Y"},{"s":1805,"v":0.0055,"c":"Y"},{"s":1859,"v":0.0031,"c":"Y"},{"s":1918,"v":0.0006,"c":"Y"},{"s":1986,"v":0,"c":"Y"},{"s":2054,"v":0,"c":"Y"},{"s":2122,"v":0.0006,"c":"Y"},{"s":2177,"v":0.0018,"c":"Y"},{"s":2222,"v":0.0055,"c":"Y"},{"s":2281,"v":0.008,"c":"Y"},{"s":2326,"v":0.0067,"c":"Y"},{"s":2372,"v":0.0049,"c":"Y"},{"s":2417,"v":-0.0006,"c":"Y"},{"s":2462,"v":-0.0018,"c":"Y"},{"s":2508,"v":-0.0031,"c":"Y"},{"s":2553,"v":-0.0055,"c":"Y"},{"s":2585,"v":-0.0104,"c":"Y"},{"s":2621,"v":-0.0018,"c":"Y"},{"s":2667,"v":0.0049,"c":"Y"},{"s":2721,"v":0.0055,"c":"Y"},{"s":2780,"v":0.0049,"c":"Y"},{"s":2825,"v":0.0018,"c":"Y"},{"s":2884,"v":0,"c":"Y"},{"s":2939,"v":0.0006,"c":"Y"},{"s":3007,"v":0.0018,"c":"Y"},{"s":3075,"v":0.0031,"c":"Y"},{"s":3120,"v":0.0049,"c":"Y"},{"s":3166,"v":0.0067,"c":"Y"},{"s":3220,"v":0.0055,"c":"Y"},{"s":3279,"v":0.0006,"c":"Y"},{"s":3347,"v":0,"c":"Y"},{"s":3415,"v":0.0043,"c":"Y"},{"s":3474,"v":0,"c":"Y"},{"s":3519,"v":-0.0018,"c":"Y"},{"s":3574,"v":0.0018,"c":"Y"},{"s":3628,"v":0.0043,"c":"Y"},{"s":3687,"v":0.0049,"c":"Y"},{"s":3755,"v":0.0043,"c":"Y"},{"s":3800,"v":0.0031,"c":"Y"},{"s":3868,"v":0,"c":"Y"},{"s":3937,"v":-0.0006,"c":"Y"},{"s":4005,"v":0,"c":"Y"},{"s":4073,"v":0.0006,"c":"Y"},{"s":4127,"v":0.0031,"c":"Y"},{"s":4172,"v":0.0117,"c":"Y"},{"s":4208,"v":0.0104,"c":"Y"},{"s":4254,"v":0.008,"c":"Y"},{"s":4299,"v":0.008,"c":"Y"},{"s":4345,"v":0.0067,"c":"Y"},{"s":4390,"v":0.0031,"c":"Y"},{"s":4435,"v":-0.0006,"c":"Y"},{"s":4472,"v":-0.0043,"c":"Y"},{"s":4503,"v":-0.008,"c":"Y"},{"s":4535,"v":-0.0018,"c":"Y"},{"s":4580,"v":0.0018,"c":"Y"},{"s":4626,"v":0,"c":"Y"},{"s":4671,"v":0.0031,"c":"Y"},{"s":4717,"v":0.0067,"c":"Y"},{"s":4762,"v":0.0043,"c":"Y"},{"s":4798,"v":-0.0012,"c":"Y"},{"s":4844,"v":0,"c":"Y"},{"s":4889,"v":0.0006,"c":"Y"},{"s":4934,"v":0.0018,"c":"Y"},{"s":4980,"v":0.0012,"c":"Y"},{"s":5025,"v":0.0031,"c":"Y"},{"s":5070,"v":0.0067,"c":"Y"},{"s":5124,"v":0.0098,"c":"Y"},{"s":5170,"v":0.008,"c":"Y"},{"s":5215,"v":0.0055,"c":"Y"},{"s":5252,"v":-0.0006,"c":"Y"},{"s":5297,"v":0.0006,"c":"Y"},{"s":5342,"v":-0.0018,"c":"Y"},{"s":5379,"v":-0.0055,"c":"Y"},{"s":5424,"v":-0.0012,"c":"Y"},{"s":5456,"v":-0.0031,"c":"Y"},
{"s":0,"v":0.0018,"c":"Z"},{"s":263,"v":0.0016,"c":"Z"},{"s":444,"v":0.0012,"c":"Z"},{"s":499,"v":-0.0012,"c":"Z"},{"s":535,"v":-0.0049,"c":"Z"},{"s":571,"v":-0.0018,"c":"Z"},{"s":603,"v":-0.0012,"c":"Z"},{"s":639,"v":-0.0141,"c":"Z"},{"s":680,"v":-0.0018,"c":"Z"},{"s":739,"v":-0.0018,"c":"Z"},{"s":807,"v":-0.0012,"c":"Z"},{"s":875,"v":-0.0006,"c":"Z"},{"s":934,"v":0.0018,"c":"Z"},{"s":980,"v":0.0043,"c":"Z"},{"s":1011,"v":-0.0031,"c":"Z"},{"s":1043,"v":-0.0061,"c":"Z"},{"s":1102,"v":-0.0018,"c":"Z"},{"s":1170,"v":-0.0006,"c":"Z"},{"s":1238,"v":0.0018,"c":"Z"},{"s":1270,"v":0.0141,"c":"Z"},{"s":1306,"v":0.0151,"c":"Z"},{"s":1361,"v":0.0135,"c":"Z"},{"s":1397,"v":0.0031,"c":"Z"},{"s":1442,"v":0,"c":"Z"},{"s":1510,"v":-0.0018,"c":"Z"},{"s":1556,"v":-0.0067,"c":"Z"},{"s":1615,"v":-0.0166,"c":"Z"},{"s":1660,"v":-0.008,"c":"Z"},{"s":1715,"v":-0.0018,"c":"Z"},{"s":1769,"v":-0.0018,"c":"Z"},{"s":1828,"v":-0.0006,"c":"Z"},{"s":1887,"v":0.0006,"c":"Z"},{"s":1941,"v":-0.0018,"c":"Z"},{"s":1986,"v":-0.008,"c":"Z"},{"s":2032,"v":-0.0043,"c":"Z"},{"s":2077,"v":-0.0018,"c":"Z"},{"s":2122,"v":0.0018,"c":"Z"},{"s":2168,"v":0.0104,"c":"Z"},{"s":2213,"v":0.0227,"c":"Z"},{"s":2258,"v":0.0313,"c":"Z"},{"s":2304,"v":0.0288,"c":"Z"},{"s":2340,"v":0.0227,"c":"Z"},{"s":2372,"v":0.008,"c":"Z"},{"s":2417,"v":-0.0043,"c":"Z"},{"s":2462,"v":-0.0067,"c":"Z"},{"s":2508,"v":-0.0104,"c":"Z"},{"s":2553,"v":-0.0166,"c":"Z"},{"s":2585,"v":-0.027,"c":"Z"},{"s":2621,"v":-0.0141,"c":"Z"},{"s":2667,"v":-0.0043,"c":"Z"},{"s":2712,"v":-0.0018,"c":"Z"},{"s":2757,"v":0,"c":"Z"},{"s":2825,"v":0,"c":"Z"},{"s":2893,"v":0,"c":"Z"},{"s":2961,"v":0,"c":"Z"},{"s":3007,"v":-0.0018,"c":"Z"},{"s":3039,"v":-0.0061,"c":"Z"},{"s":3075,"v":-0.0018,"c":"Z"},{"s":3120,"v":0.008,"c":"Z"},{"s":3166,"v":0.0227,"c":"Z"},{"s":3211,"v":0.0337,"c":"Z"},{"s":3247,"v":0.0252,"c":"Z"},{"s":3279,"v":0.019,"c":"Z"},{"s":3311,"v":0.019,"c":"Z"},{"s":3347,"v":0.0104,"c":"Z"},{"s":3392,"v":0.0006,"c":"Z"},{"s":3438,"v":-0.0031,"c":"Z"},{"s":3483,"v":-0.0067,"c":"Z"},{"s":3519,"v":-0.0104,"c":"Z"},{"s":3551,"v":-0.019,"c":"Z"},{"s":3583,"v":-0.008,"c":"Z"},{"s":3619,"v":-0.0018,"c":"Z"},{"s":3664,"v":0,"c":"Z"},{"s":3755,"v":0,"c":"Z"},{"s":3846,"v":0,"c":"Z"},{"s":3914,"v":-0.0006,"c":"Z"},{"s":3959,"v":-0.0031,"c":"Z"},{"s":4005,"v":-0.0067,"c":"Z"},{"s":4050,"v":0.0006,"c":"Z"},{"s":4095,"v":0.0117,"c":"Z"},{"s":4140,"v":0.0264,"c":"Z"},{"s":4199,"v":0.0356,"c":"Z"},{"s":4245,"v":0.0325,"c":"Z"},{"s":4290,"v":0.0264,"c":"Z"},{"s":4322,"v":0.0129,"c":"Z"},{"s":4367,"v":-0.0018,"c":"Z"},{"s":4413,"v":-0.0104,"c":"Z"},{"s":4444,"v":-0.0153,"c":"Z"},{"s":4481,"v":-0.0166,"c":"Z"},{"s":4517,"v":-0.0245,"c":"Z"},{"s":4549,"v":-0.0141,"c":"Z"},{"s":4594,"v":-0.0043,"c":"Z"},{"s":4640,"v":-0.0018,"c":"Z"},{"s":4685,"v":-0.0018,"c":"Z"},{"s":4753,"v":-0.0043,"c":"Z"},{"s":4798,"v":-0.0043,"c":"Z"},{"s":4844,"v":-0.0031,"c":"Z"},{"s":4889,"v":-0.0043,"c":"Z"},{"s":4925,"v":-0.0098,"c":"Z"},{"s":4971,"v":-0.0018,"c":"Z"},{"s":5016,"v":0,"c":"Z"},{"s":5061,"v":0.0104,"c":"Z"},{"s":5093,"v":0.0227,"c":"Z"},{"s":5138,"v":0.0393,"c":"Z"},{"s":5184,"v":0.0288,"c":"Z"},{"s":5229,"v":0.0104,"c":"Z"},{"s":5274,"v":-0.0018,"c":"Z"},{"s":5320,"v":-0.0117,"c":"Z"},{"s":5352,"v":-0.0147,"c":"Z"},{"s":5411,"v":-0.0147,"c":"Z"},{"s":5456,"v":-0.0018,"c":"Z"},{"s":5487,"v":0,"c":"Z"},{"s":5750,"v":0,"c":"Z"}
],
"p5":[
{"s":0,"v":0.0014,"c":"X"},{"s":172,"v":0.0005,"c":"X"},{"s":352,"v":0,"c":"X"},{"s":442,"v":-0.0014,"c":"X"},{"s":488,"v":-0.0081,"c":"X"},{"s":542,"v":-0.0351,"c":"X"},{"s":623,"v":-0.0351,"c":"X"},{"s":659,"v":-0.0108,"c":"X"},{"s":704,"v":0.0135,"c":"X"},{"s":758,"v":0.0095,"c":"X"},{"s":826,"v":0.0068,"c":"X"},{"s":885,"v":-0.0027,"c":"X"},{"s":939,"v":-0.0216,"c":"X"},{"s":984,"v":-0.0257,"c":"X"},{"s":1052,"v":-0.0284,"c":"X"},{"s":1097,"v":-0.0311,"c":"X"},{"s":1142,"v":-0.0405,"c":"X"},{"s":1187,"v":-0.0297,"c":"X"},{"s":1233,"v":-0.0027,"c":"X"},{"s":1278,"v":0.0122,"c":"X"},{"s":1345,"v":0.0135,"c":"X"},{"s":1391,"v":0.0108,"c":"X"},{"s":1436,"v":-0.0108,"c":"X"},{"s":1481,"v":-0.0311,"c":"X"},{"s":1549,"v":-0.0324,"c":"X"},{"s":1639,"v":-0.0324,"c":"X"},{"s":1684,"v":-0.0135,"c":"X"},{"s":1729,"v":-0.0027,"c":"X"},{"s":1797,"v":-0.0054,"c":"X"},{"s":1865,"v":-0.0081,"c":"X"},{"s":1923,"v":-0.0135,"c":"X"},{"s":1968,"v":-0.0243,"c":"X"},{"s":2023,"v":-0.0297,"c":"X"},{"s":2090,"v":-0.0351,"c":"X"},{"s":2136,"v":-0.0486,"c":"X"},{"s":2181,"v":-0.0243,"c":"X"},{"s":2226,"v":0.0081,"c":"X"},{"s":2271,"v":0.0203,"c":"X"},{"s":2316,"v":0.0108,"c":"X"},{"s":2375,"v":-0.0108,"c":"X"},{"s":2429,"v":-0.0297,"c":"X"},{"s":2483,"v":-0.0378,"c":"X"},{"s":2542,"v":-0.0351,"c":"X"},{"s":2601,"v":-0.0108,"c":"X"},{"s":2646,"v":-0.0027,"c":"X"},{"s":2700,"v":-0.0108,"c":"X"},{"s":2754,"v":-0.0162,"c":"X"},{"s":2813,"v":-0.0162,"c":"X"},{"s":2858,"v":-0.0216,"c":"X"},{"s":2917,"v":-0.0324,"c":"X"},{"s":2971,"v":-0.0378,"c":"X"},{"s":3025,"v":-0.0405,"c":"X"},{"s":3061,"v":-0.0554,"c":"X"},{"s":3097,"v":-0.0351,"c":"X"},{"s":3129,"v":-0.0081,"c":"X"},{"s":3174,"v":0.0189,"c":"X"},{"s":3242,"v":0.0189,"c":"X"},{"s":3296,"v":0.0081,"c":"X"},{"s":3341,"v":-0.0162,"c":"X"},{"s":3386,"v":-0.0297,"c":"X"},{"s":3432,"v":-0.0324,"c":"X"},{"s":3490,"v":-0.0324,"c":"X"},{"s":3513,"v":-0.0473,"c":"X"},{"s":3558,"v":-0.0162,"c":"X"},{"s":3594,"v":-0.0027,"c":"X"},{"s":3648,"v":-0.0041,"c":"X"},{"s":3702,"v":-0.0027,"c":"X"},{"s":3761,"v":-0.0027,"c":"X"},{"s":3820,"v":-0.0189,"c":"X"},{"s":3865,"v":-0.027,"c":"X"},{"s":3919,"v":-0.0324,"c":"X"},{"s":3987,"v":-0.0378,"c":"X"},{"s":4018,"v":-0.0486,"c":"X"},{"s":4045,"v":-0.0716,"c":"X"},{"s":4077,"v":-0.0432,"c":"X"},{"s":4122,"v":-0.0108,"c":"X"},{"s":4167,"v":0.0162,"c":"X"},{"s":4212,"v":0.023,"c":"X"},{"s":4258,"v":0.0162,"c":"X"},{"s":4303,"v":0,"c":"X"},{"s":4348,"v":-0.0135,"c":"X"},{"s":4393,"v":-0.0243,"c":"X"},{"s":4438,"v":-0.0324,"c":"X"},{"s":4497,"v":-0.0405,"c":"X"},{"s":4551,"v":-0.0108,"c":"X"},{"s":4596,"v":0,"c":"X"},{"s":4650,"v":-0.0027,"c":"X"},{"s":4695,"v":-0.0081,"c":"X"},{"s":4741,"v":-0.0243,"c":"X"},{"s":4799,"v":-0.0405,"c":"X"},{"s":4867,"v":-0.0513,"c":"X"},{"s":4912,"v":-0.0567,"c":"X"},{"s":4948,"v":-0.0648,"c":"X"},{"s":4980,"v":-0.0459,"c":"X"},{"s":5025,"v":-0.0027,"c":"X"},{"s":5070,"v":0.0189,"c":"X"},{"s":5115,"v":0.027,"c":"X"},{"s":5161,"v":0.0081,"c":"X"},{"s":5206,"v":-0.0243,"c":"X"},{"s":5251,"v":-0.0432,"c":"X"},{"s":5296,"v":-0.0513,"c":"X"},{"s":5341,"v":-0.0567,"c":"X"},{"s":5386,"v":-0.0756,"c":"X"},{"s":5432,"v":-0.0432,"c":"X"},{"s":5477,"v":-0.0108,"c":"X"},{"s":5544,"v":-0.0095,"c":"X"},{"s":5703,"v":-0.0081,"c":"X"},
{"s":0,"v":-0.0122,"c":"Y"},{"s":172,"v":-0.0113,"c":"Y"},{"s":352,"v":-0.0108,"c":"Y"},{"s":442,"v":-0.0103,"c":"Y"},{"s":510,"v":-0.0054,"c":"Y"},{"s":555,"v":-0.0122,"c":"Y"},{"s":600,"v":-0.0149,"c":"Y"},{"s":645,"v":-0.0081,"c":"Y"},{"s":691,"v":0.0149,"c":"Y"},{"s":736,"v":0.0081,"c":"Y"},{"s":781,"v":-0.0027,"c":"Y"},{"s":849,"v":-0.0014,"c":"Y"},{"s":917,"v":-0.0027,"c":"Y"},{"s":975,"v":-0.0081,"c":"Y"},{"s":1030,"v":-0.0135,"c":"Y"},{"s":1075,"v":-0.0189,"c":"Y"},{"s":1120,"v":-0.023,"c":"Y"},{"s":1174,"v":-0.0324,"c":"Y"},{"s":1219,"v":-0.0243,"c":"Y"},{"s":1278,"v":-0.0081,"c":"Y"},{"s":1345,"v":-0.0081,"c":"Y"},{"s":1413,"v":-0.0081,"c":"Y"},{"s":1472,"v":-0.0095,"c":"Y"},{"s":1526,"v":-0.0054,"c":"Y"},{"s":1594,"v":-0.0081,"c":"Y"},{"s":1639,"v":0.0176,"c":"Y"},{"s":1684,"v":0.0027,"c":"Y"},{"s":1752,"v":0,"c":"Y"},{"s":1819,"v":0,"c":"Y"},{"s":1887,"v":0.0054,"c":"Y"},{"s":1932,"v":-0.0027,"c":"Y"},{"s":1986,"v":-0.0081,"c":"Y"},{"s":2045,"v":-0.0095,"c":"Y"},{"s":2090,"v":-0.0162,"c":"Y"},{"s":2136,"v":-0.0365,"c":"Y"},{"s":2181,"v":-0.0216,"c":"Y"},{"s":2226,"v":-0.0108,"c":"Y"},{"s":2294,"v":-0.0081,"c":"Y"},{"s":2361,"v":-0.0081,"c":"Y"},{"s":2429,"v":-0.0108,"c":"Y"},{"s":2497,"v":-0.0108,"c":"Y"},{"s":2542,"v":-0.0014,"c":"Y"},{"s":2574,"v":0.0176,"c":"Y"},{"s":2610,"v":0.0068,"c":"Y"},{"s":2664,"v":0.0027,"c":"Y"},{"s":2722,"v":0,"c":"Y"},{"s":2790,"v":-0.0027,"c":"Y"},{"s":2858,"v":0.0041,"c":"Y"},{"s":2903,"v":0.0054,"c":"Y"},{"s":2948,"v":-0.0041,"c":"Y"},{"s":3007,"v":-0.0081,"c":"Y"},{"s":3061,"v":-0.0108,"c":"Y"},{"s":3129,"v":-0.0081,"c":"Y"},{"s":3197,"v":-0.0081,"c":"Y"},{"s":3264,"v":-0.0108,"c":"Y"},{"s":3332,"v":-0.0162,"c":"Y"},{"s":3377,"v":-0.0392,"c":"Y"},{"s":3422,"v":-0.0189,"c":"Y"},{"s":3476,"v":-0.0081,"c":"Y"},{"s":3513,"v":0.0081,"c":"Y"},{"s":3526,"v":0.0311,"c":"Y"},{"s":3558,"v":0.0027,"c":"Y"},{"s":3612,"v":0,"c":"Y"},{"s":3693,"v":0.0014,"c":"Y"},{"s":3761,"v":0,"c":"Y"},{"s":3829,"v":-0.0054,"c":"Y"},{"s":3896,"v":-0.0108,"c":"Y"},{"s":3964,"v":-0.0135,"c":"Y"},{"s":4018,"v":-0.0189,"c":"Y"},{"s":4054,"v":-0.0419,"c":"Y"},{"s":4099,"v":-0.0216,"c":"Y"},{"s":4144,"v":-0.0108,"c":"Y"},{"s":4212,"v":-0.0108,"c":"Y"},{"s":4280,"v":-0.0081,"c":"Y"},{"s":4348,"v":-0.0108,"c":"Y"},{"s":4393,"v":-0.0162,"c":"Y"},{"s":4438,"v":-0.0324,"c":"Y"},{"s":4470,"v":-0.0081,"c":"Y"},{"s":4506,"v":0.0216,"c":"Y"},{"s":4551,"v":0.0027,"c":"Y"},{"s":4619,"v":0,"c":"Y"},{"s":4686,"v":0.0027,"c":"Y"},{"s":4754,"v":0.0041,"c":"Y"},{"s":4822,"v":-0.0027,"c":"Y"},{"s":4890,"v":-0.0081,"c":"Y"},{"s":4935,"v":-0.0162,"c":"Y"},{"s":4980,"v":-0.0378,"c":"Y"},{"s":5025,"v":-0.0189,"c":"Y"},{"s":5070,"v":-0.0108,"c":"Y"},{"s":5138,"v":-0.0081,"c":"Y"},{"s":5206,"v":-0.0095,"c":"Y"},{"s":5273,"v":-0.0081,"c":"Y"},{"s":5318,"v":0.0027,"c":"Y"},{"s":5363,"v":0.0108,"c":"Y"},{"s":5400,"v":-0.0054,"c":"Y"},{"s":5445,"v":-0.0108,"c":"Y"},{"s":5490,"v":-0.0189,"c":"Y"},{"s":5544,"v":-0.0162,"c":"Y"},{"s":5612,"v":-0.0162,"c":"Y"},{"s":5703,"v":-0.0162,"c":"Y"},
{"s":0,"v":-0.0149,"c":"Z"},{"s":172,"v":-0.0143,"c":"Z"},{"s":352,"v":-0.014,"c":"Z"},{"s":465,"v":-0.0135,"c":"Z"},{"s":510,"v":-0.0081,"c":"Z"},{"s":542,"v":0.0135,"c":"Z"},{"s":578,"v":0.0149,"c":"Z"},{"s":614,"v":-0.0027,"c":"Z"},{"s":632,"v":-0.0135,"c":"Z"},{"s":668,"v":0.0135,"c":"Z"},{"s":704,"v":0.0149,"c":"Z"},{"s":758,"v":0.0149,"c":"Z"},{"s":826,"v":0.0149,"c":"Z"},{"s":871,"v":-0.0027,"c":"Z"},{"s":916,"v":-0.0189,"c":"Z"},{"s":948,"v":-0.0243,"c":"Z"},{"s":984,"v":-0.0027,"c":"Z"},{"s":1020,"v":0.0135,"c":"Z"},{"s":1066,"v":0.0149,"c":"Z"},{"s":1111,"v":0.0135,"c":"Z"},{"s":1156,"v":-0.0135,"c":"Z"},{"s":1187,"v":-0.027,"c":"Z"},{"s":1219,"v":-0.0027,"c":"Z"},{"s":1255,"v":0.0027,"c":"Z"},{"s":1323,"v":0.0041,"c":"Z"},{"s":1368,"v":0.0027,"c":"Z"},{"s":1413,"v":-0.0189,"c":"Z"},{"s":1458,"v":-0.0311,"c":"Z"},{"s":1503,"v":-0.0108,"c":"Z"},{"s":1549,"v":0.0135,"c":"Z"},{"s":1580,"v":0.0149,"c":"Z"},{"s":1625,"v":0,"c":"Z"},{"s":1670,"v":0.0108,"c":"Z"},{"s":1729,"v":0.0081,"c":"Z"},{"s":1774,"v":0,"c":"Z"},{"s":1819,"v":0.0081,"c":"Z"},{"s":1887,"v":0.0054,"c":"Z"},{"s":1932,"v":0.0054,"c":"Z"},{"s":1978,"v":0,"c":"Z"},{"s":2023,"v":-0.0081,"c":"Z"},{"s":2068,"v":-0.0243,"c":"Z"},{"s":2122,"v":-0.0297,"c":"Z"},{"s":2167,"v":-0.0108,"c":"Z"},{"s":2212,"v":0.0108,"c":"Z"},{"s":2257,"v":0.0203,"c":"Z"},{"s":2303,"v":0.0135,"c":"Z"},{"s":2348,"v":-0.0081,"c":"Z"},{"s":2393,"v":-0.0243,"c":"Z"},{"s":2438,"v":-0.0108,"c":"Z"},{"s":2483,"v":0.0081,"c":"Z"},{"s":2542,"v":0.0095,"c":"Z"},{"s":2587,"v":0.0054,"c":"Z"},{"s":2632,"v":-0.0027,"c":"Z"},{"s":2677,"v":-0.0068,"c":"Z"},{"s":2722,"v":-0.0135,"c":"Z"},{"s":2768,"v":-0.0108,"c":"Z"},{"s":2813,"v":-0.0027,"c":"Z"},{"s":2858,"v":0.0081,"c":"Z"},{"s":2903,"v":0.0108,"c":"Z"},{"s":2948,"v":-0.0027,"c":"Z"},{"s":2993,"v":-0.027,"c":"Z"},{"s":3039,"v":-0.0108,"c":"Z"},{"s":3084,"v":0.0108,"c":"Z"},{"s":3129,"v":0.0135,"c":"Z"},{"s":3174,"v":0.0162,"c":"Z"},{"s":3219,"v":0.0081,"c":"Z"},{"s":3264,"v":-0.0108,"c":"Z"},{"s":3309,"v":-0.027,"c":"Z"},{"s":3355,"v":-0.0243,"c":"Z"},{"s":3400,"v":-0.0081,"c":"Z"},{"s":3445,"v":0.0095,"c":"Z"},{"s":3490,"v":0.0081,"c":"Z"},{"s":3535,"v":0.0108,"c":"Z"},{"s":3580,"v":0.0095,"c":"Z"},{"s":3626,"v":-0.0041,"c":"Z"},{"s":3671,"v":0,"c":"Z"},{"s":3716,"v":0.0081,"c":"Z"},{"s":3784,"v":0.0054,"c":"Z"},{"s":3851,"v":0.0027,"c":"Z"},{"s":3896,"v":-0.0027,"c":"Z"},{"s":3942,"v":0.0203,"c":"Z"},{"s":3987,"v":0.0203,"c":"Z"},{"s":4018,"v":-0.0027,"c":"Z"},{"s":4054,"v":-0.0351,"c":"Z"},{"s":4099,"v":-0.0108,"c":"Z"},{"s":4144,"v":0.0162,"c":"Z"},{"s":4190,"v":0.0189,"c":"Z"},{"s":4235,"v":0.0135,"c":"Z"},{"s":4280,"v":-0.0027,"c":"Z"},{"s":4325,"v":-0.0149,"c":"Z"},{"s":4370,"v":-0.0311,"c":"Z"},{"s":4416,"v":-0.0108,"c":"Z"},{"s":4461,"v":0.0135,"c":"Z"},{"s":4506,"v":0.0176,"c":"Z"},{"s":4551,"v":0.0135,"c":"Z"},{"s":4596,"v":0,"c":"Z"},{"s":4641,"v":0.0081,"c":"Z"},{"s":4686,"v":0.0027,"c":"Z"},{"s":4731,"v":-0.0027,"c":"Z"},{"s":4777,"v":-0.0108,"c":"Z"},{"s":4822,"v":-0.0041,"c":"Z"},{"s":4867,"v":0.0162,"c":"Z"},{"s":4912,"v":0.0081,"c":"Z"},{"s":4957,"v":-0.0243,"c":"Z"},{"s":4993,"v":-0.0378,"c":"Z"},{"s":5039,"v":-0.0027,"c":"Z"},{"s":5084,"v":0.027,"c":"Z"},{"s":5129,"v":0.0243,"c":"Z"},{"s":5174,"v":0.0054,"c":"Z"},{"s":5219,"v":-0.0149,"c":"Z"},{"s":5264,"v":-0.0243,"c":"Z"},{"s":5310,"v":0,"c":"Z"},{"s":5355,"v":0.0135,"c":"Z"},{"s":5400,"v":0.0149,"c":"Z"},{"s":5445,"v":-0.0108,"c":"Z"},{"s":5477,"v":-0.0324,"c":"Z"},{"s":5522,"v":-0.0284,"c":"Z"},{"s":5590,"v":-0.027,"c":"Z"},{"s":5703,"v":-0.027,"c":"Z"}
],
"p6":[
{"s":0,"v":-0.0058,"c":"X"},{"s":172,"v":-0.0064,"c":"X"},{"s":354,"v":-0.0068,"c":"X"},{"s":444,"v":-0.0058,"c":"X"},{"s":490,"v":-0.0026,"c":"X"},{"s":526,"v":-0.0132,"c":"X"},{"s":544,"v":-0.0197,"c":"X"},{"s":589,"v":-0.0175,"c":"X"},{"s":635,"v":-0.0004,"c":"X"},{"s":680,"v":0.0103,"c":"X"},{"s":726,"v":0.0156,"c":"X"},{"s":771,"v":0.0145,"c":"X"},{"s":817,"v":0.0113,"c":"X"},{"s":862,"v":0.0081,"c":"X"},{"s":898,"v":0.0017,"c":"X"},{"s":934,"v":-0.0047,"c":"X"},{"s":966,"v":-0.0218,"c":"X"},{"s":1011,"v":-0.0218,"c":"X"},{"s":1070,"v":-0.025,"c":"X"},{"s":1116,"v":-0.0282,"c":"X"},{"s":1161,"v":-0.041,"c":"X"},{"s":1206,"v":-0.0218,"c":"X"},{"s":1252,"v":-0.009,"c":"X"},{"s":1297,"v":0.0006,"c":"X"},{"s":1342,"v":0.0006,"c":"X"},{"s":1388,"v":-0.0175,"c":"X"},{"s":1442,"v":-0.0282,"c":"X"},{"s":1488,"v":-0.0303,"c":"X"},{"s":1533,"v":-0.0261,"c":"X"},{"s":1588,"v":-0.0197,"c":"X"},{"s":1633,"v":-0.0154,"c":"X"},{"s":1678,"v":-0.0111,"c":"X"},{"s":1724,"v":-0.0004,"c":"X"},{"s":1769,"v":0,"c":"X"},{"s":1841,"v":-0.0004,"c":"X"},{"s":1896,"v":-0.0026,"c":"X"},{"s":1941,"v":-0.0068,"c":"X"},{"s":1986,"v":-0.0239,"c":"X"},{"s":2041,"v":-0.025,"c":"X"},{"s":2086,"v":-0.0282,"c":"X"},{"s":2122,"v":-0.0389,"c":"X"},{"s":2154,"v":-0.0506,"c":"X"},{"s":2191,"v":-0.0261,"c":"X"},{"s":2236,"v":0.0038,"c":"X"},{"s":2281,"v":0.0092,"c":"X"},{"s":2326,"v":0.0081,"c":"X"},{"s":2372,"v":-0.0111,"c":"X"},{"s":2417,"v":-0.0218,"c":"X"},{"s":2462,"v":-0.0303,"c":"X"},{"s":2521,"v":-0.0303,"c":"X"},{"s":2585,"v":-0.0239,"c":"X"},{"s":2644,"v":-0.0058,"c":"X"},{"s":2689,"v":-0.0132,"c":"X"},{"s":2748,"v":-0.0197,"c":"X"},{"s":2803,"v":-0.0261,"c":"X"},{"s":2857,"v":-0.0346,"c":"X"},{"s":2916,"v":-0.0389,"c":"X"},{"s":2948,"v":-0.0367,"c":"X"},{"s":2984,"v":-0.0303,"c":"X"},{"s":3030,"v":-0.0175,"c":"X"},{"s":3075,"v":-0.0539,"c":"X"},{"s":3111,"v":-0.0282,"c":"X"},{"s":3156,"v":-0.0004,"c":"X"},{"s":3202,"v":0.0081,"c":"X"},{"s":3247,"v":0.006,"c":"X"},{"s":3302,"v":-0.0068,"c":"X"},{"s":3347,"v":-0.0175,"c":"X"},{"s":3392,"v":-0.0389,"c":"X"},{"s":3438,"v":-0.0239,"c":"X"},{"s":3483,"v":-0.0026,"c":"X"},{"s":3528,"v":0.0006,"c":"X"},{"s":3583,"v":-0.0004,"c":"X"},{"s":3642,"v":-0.0026,"c":"X"},{"s":3701,"v":-0.0015,"c":"X"},{"s":3755,"v":-0.0047,"c":"X"},{"s":3800,"v":-0.009,"c":"X"},{"s":3846,"v":-0.0154,"c":"X"},{"s":3891,"v":-0.0175,"c":"X"},{"s":3946,"v":-0.0132,"c":"X"},{"s":3991,"v":-0.0218,"c":"X"},{"s":4036,"v":-0.0389,"c":"X"},{"s":4072,"v":-0.0667,"c":"X"},{"s":4095,"v":-0.0389,"c":"X"},{"s":4127,"v":-0.0132,"c":"X"},{"s":4163,"v":-0.0004,"c":"X"},{"s":4199,"v":0.0103,"c":"X"},{"s":4245,"v":0.006,"c":"X"},{"s":4290,"v":-0.0015,"c":"X"},{"s":4336,"v":-0.009,"c":"X"},{"s":4390,"v":-0.0346,"c":"X"},{"s":4435,"v":-0.0175,"c":"X"},{"s":4481,"v":-0.0047,"c":"X"},{"s":4526,"v":-0.0004,"c":"X"},{"s":4571,"v":0.0081,"c":"X"},{"s":4617,"v":0.006,"c":"X"},{"s":4662,"v":0.0017,"c":"X"},{"s":4707,"v":-0.0047,"c":"X"},{"s":4753,"v":-0.0132,"c":"X"},{"s":4798,"v":-0.0197,"c":"X"},{"s":4844,"v":-0.0239,"c":"X"},{"s":4889,"v":-0.0325,"c":"X"},{"s":4934,"v":-0.0432,"c":"X"},{"s":4980,"v":-0.0571,"c":"X"},{"s":5016,"v":-0.0346,"c":"X"},{"s":5061,"v":-0.0047,"c":"X"},{"s":5107,"v":0.0081,"c":"X"},{"s":5152,"v":0.0103,"c":"X"},{"s":5197,"v":0.0038,"c":"X"},{"s":5243,"v":-0.0111,"c":"X"},{"s":5288,"v":-0.0218,"c":"X"},{"s":5333,"v":-0.0261,"c":"X"},{"s":5379,"v":-0.0346,"c":"X"},{"s":5415,"v":-0.0656,"c":"X"},{"s":5456,"v":-0.0389,"c":"X"},{"s":5501,"v":-0.0261,"c":"X"},{"s":5547,"v":-0.0218,"c":"X"},{"s":5614,"v":-0.0186,"c":"X"},{"s":5750,"v":-0.018,"c":"X"},
{"s":0,"v":-0.009,"c":"Y"},{"s":172,"v":-0.0085,"c":"Y"},{"s":354,"v":-0.0073,"c":"Y"},{"s":444,"v":-0.0058,"c":"Y"},{"s":490,"v":-0.0015,"c":"Y"},{"s":535,"v":-0.0036,"c":"Y"},{"s":580,"v":-0.0047,"c":"Y"},{"s":635,"v":-0.0004,"c":"Y"},{"s":694,"v":0.0021,"c":"Y"},{"s":739,"v":0.0038,"c":"Y"},{"s":785,"v":0.0017,"c":"Y"},{"s":830,"v":-0.0015,"c":"Y"},{"s":875,"v":-0.0004,"c":"Y"},{"s":934,"v":-0.0015,"c":"Y"},{"s":980,"v":-0.0015,"c":"Y"},{"s":1025,"v":-0.0068,"c":"Y"},{"s":1070,"v":-0.0111,"c":"Y"},{"s":1125,"v":-0.0154,"c":"Y"},{"s":1170,"v":-0.009,"c":"Y"},{"s":1215,"v":-0.0004,"c":"Y"},{"s":1270,"v":0,"c":"Y"},{"s":1315,"v":-0.0015,"c":"Y"},{"s":1374,"v":-0.0047,"c":"Y"},{"s":1433,"v":-0.0132,"c":"Y"},{"s":1488,"v":-0.0047,"c":"Y"},{"s":1556,"v":-0.0015,"c":"Y"},{"s":1615,"v":0.0017,"c":"Y"},{"s":1669,"v":0.0017,"c":"Y"},{"s":1724,"v":-0.0004,"c":"Y"},{"s":1782,"v":0.0006,"c":"Y"},{"s":1850,"v":-0.0004,"c":"Y"},{"s":1905,"v":-0.0004,"c":"Y"},{"s":1941,"v":-0.0015,"c":"Y"},{"s":1977,"v":-0.009,"c":"Y"},{"s":2023,"v":-0.0026,"c":"Y"},{"s":2077,"v":-0.0036,"c":"Y"},{"s":2145,"v":-0.003,"c":"Y"},{"s":2213,"v":-0.0026,"c":"Y"},{"s":2281,"v":-0.0015,"c":"Y"},{"s":2340,"v":-0.0026,"c":"Y"},{"s":2385,"v":-0.009,"c":"Y"},{"s":2431,"v":-0.0197,"c":"Y"},{"s":2476,"v":-0.0132,"c":"Y"},{"s":2521,"v":0.0038,"c":"Y"},{"s":2553,"v":0.0167,"c":"Y"},{"s":2585,"v":0.0038,"c":"Y"},{"s":2630,"v":-0.0068,"c":"Y"},{"s":2676,"v":-0.01,"c":"Y"},{"s":2734,"v":-0.0068,"c":"Y"},{"s":2794,"v":-0.0015,"c":"Y"},{"s":2857,"v":-0.0015,"c":"Y"},{"s":2916,"v":-0.0026,"c":"Y"},{"s":2984,"v":-0.0015,"c":"Y"},{"s":3039,"v":-0.0004,"c":"Y"},{"s":3098,"v":-0.0004,"c":"Y"},{"s":3166,"v":-0.0036,"c":"Y"},{"s":3220,"v":-0.0047,"c":"Y"},{"s":3279,"v":-0.0015,"c":"Y"},{"s":3338,"v":-0.0047,"c":"Y"},{"s":3392,"v":-0.0261,"c":"Y"},{"s":3438,"v":-0.0111,"c":"Y"},{"s":3483,"v":0.0017,"c":"Y"},{"s":3528,"v":0.0081,"c":"Y"},{"s":3574,"v":0.0038,"c":"Y"},{"s":3619,"v":0.0017,"c":"Y"},{"s":3687,"v":0.0006,"c":"Y"},{"s":3755,"v":-0.0004,"c":"Y"},{"s":3810,"v":-0.0036,"c":"Y"},{"s":3868,"v":-0.009,"c":"Y"},{"s":3914,"v":-0.0068,"c":"Y"},{"s":3959,"v":-0.0015,"c":"Y"},{"s":4005,"v":-0.0026,"c":"Y"},{"s":4050,"v":-0.0132,"c":"Y"},{"s":4095,"v":-0.0175,"c":"Y"},{"s":4140,"v":-0.009,"c":"Y"},{"s":4186,"v":-0.0026,"c":"Y"},{"s":4245,"v":-0.0015,"c":"Y"},{"s":4299,"v":-0.0015,"c":"Y"},{"s":4345,"v":-0.0047,"c":"Y"},{"s":4390,"v":-0.0239,"c":"Y"},{"s":4435,"v":-0.0111,"c":"Y"},{"s":4481,"v":0.0017,"c":"Y"},{"s":4526,"v":0.0049,"c":"Y"},{"s":4571,"v":0.0081,"c":"Y"},{"s":4617,"v":0.006,"c":"Y"},{"s":4662,"v":0.0017,"c":"Y"},{"s":4707,"v":0.0038,"c":"Y"},{"s":4753,"v":0.0081,"c":"Y"},{"s":4798,"v":0.0124,"c":"Y"},{"s":4844,"v":-0.0004,"c":"Y"},{"s":4889,"v":-0.0132,"c":"Y"},{"s":4934,"v":-0.0122,"c":"Y"},{"s":4980,"v":-0.009,"c":"Y"},{"s":5025,"v":-0.0047,"c":"Y"},{"s":5070,"v":-0.0015,"c":"Y"},{"s":5124,"v":-0.0026,"c":"Y"},{"s":5184,"v":-0.0026,"c":"Y"},{"s":5229,"v":-0.009,"c":"Y"},{"s":5274,"v":-0.0197,"c":"Y"},{"s":5320,"v":-0.0068,"c":"Y"},{"s":5352,"v":0.0081,"c":"Y"},{"s":5379,"v":0.0103,"c":"Y"},{"s":5411,"v":0.0017,"c":"Y"},{"s":5456,"v":-0.0026,"c":"Y"},{"s":5501,"v":-0.0111,"c":"Y"},{"s":5547,"v":-0.0143,"c":"Y"},{"s":5614,"v":-0.0122,"c":"Y"},{"s":5750,"v":-0.01,"c":"Y"},
{"s":0,"v":-0.01,"c":"Z"},{"s":172,"v":-0.009,"c":"Z"},{"s":354,"v":-0.0085,"c":"Z"},{"s":444,"v":-0.0047,"c":"Z"},{"s":499,"v":0.0038,"c":"Z"},{"s":544,"v":0.0145,"c":"Z"},{"s":580,"v":0.0199,"c":"Z"},{"s":617,"v":0.0167,"c":"Z"},{"s":662,"v":-0.0004,"c":"Z"},{"s":694,"v":0.0081,"c":"Z"},{"s":739,"v":0.0103,"c":"Z"},{"s":785,"v":0.0124,"c":"Z"},{"s":830,"v":0.0081,"c":"Z"},{"s":875,"v":-0.0004,"c":"Z"},{"s":934,"v":-0.009,"c":"Z"},{"s":980,"v":-0.009,"c":"Z"},{"s":1025,"v":0.0081,"c":"Z"},{"s":1070,"v":0.0188,"c":"Z"},{"s":1116,"v":0.0167,"c":"Z"},{"s":1161,"v":-0.0004,"c":"Z"},{"s":1206,"v":-0.0175,"c":"Z"},{"s":1252,"v":-0.0132,"c":"Z"},{"s":1297,"v":-0.0047,"c":"Z"},{"s":1342,"v":-0.009,"c":"Z"},{"s":1397,"v":-0.0218,"c":"Z"},{"s":1452,"v":-0.0111,"c":"Z"},{"s":1497,"v":0.006,"c":"Z"},{"s":1542,"v":0.0199,"c":"Z"},{"s":1588,"v":0.0145,"c":"Z"},{"s":1633,"v":0.0017,"c":"Z"},{"s":1692,"v":-0.0004,"c":"Z"},{"s":1760,"v":0,"c":"Z"},{"s":1828,"v":-0.0004,"c":"Z"},{"s":1896,"v":-0.0004,"c":"Z"},{"s":1941,"v":0.0017,"c":"Z"},{"s":1986,"v":0.0124,"c":"Z"},{"s":2032,"v":0.0167,"c":"Z"},{"s":2077,"v":-0.0004,"c":"Z"},{"s":2122,"v":-0.0175,"c":"Z"},{"s":2159,"v":-0.0218,"c":"Z"},{"s":2204,"v":-0.0068,"c":"Z"},{"s":2236,"v":0.0124,"c":"Z"},{"s":2281,"v":0.0177,"c":"Z"},{"s":2326,"v":0.0145,"c":"Z"},{"s":2372,"v":-0.0047,"c":"Z"},{"s":2417,"v":-0.0218,"c":"Z"},{"s":2462,"v":-0.009,"c":"Z"},{"s":2508,"v":0.0081,"c":"Z"},{"s":2553,"v":0.0188,"c":"Z"},{"s":2599,"v":0.0103,"c":"Z"},{"s":2644,"v":-0.0004,"c":"Z"},{"s":2689,"v":-0.009,"c":"Z"},{"s":2735,"v":-0.0132,"c":"Z"},{"s":2780,"v":-0.0004,"c":"Z"},{"s":2825,"v":0.0124,"c":"Z"},{"s":2871,"v":0.0145,"c":"Z"},{"s":2916,"v":0.0167,"c":"Z"},{"s":2961,"v":0.0124,"c":"Z"},{"s":3007,"v":-0.0004,"c":"Z"},{"s":3052,"v":-0.0175,"c":"Z"},{"s":3098,"v":-0.0047,"c":"Z"},{"s":3143,"v":0.0081,"c":"Z"},{"s":3188,"v":0.0145,"c":"Z"},{"s":3220,"v":0.0156,"c":"Z"},{"s":3265,"v":0.0081,"c":"Z"},{"s":3311,"v":0.0081,"c":"Z"},{"s":3356,"v":-0.0026,"c":"Z"},{"s":3402,"v":-0.0132,"c":"Z"},{"s":3447,"v":0.0017,"c":"Z"},{"s":3492,"v":0.0124,"c":"Z"},{"s":3538,"v":0.0156,"c":"Z"},{"s":3583,"v":0.0017,"c":"Z"},{"s":3628,"v":0.0006,"c":"Z"},{"s":3710,"v":0,"c":"Z"},{"s":3778,"v":-0.0004,"c":"Z"},{"s":3846,"v":-0.0047,"c":"Z"},{"s":3891,"v":-0.0004,"c":"Z"},{"s":3946,"v":0.0188,"c":"Z"},{"s":3991,"v":0.0295,"c":"Z"},{"s":4036,"v":0.0306,"c":"Z"},{"s":4072,"v":0.0167,"c":"Z"},{"s":4108,"v":-0.009,"c":"Z"},{"s":4140,"v":-0.0218,"c":"Z"},{"s":4186,"v":-0.0132,"c":"Z"},{"s":4231,"v":-0.0004,"c":"Z"},{"s":4276,"v":0.0038,"c":"Z"},{"s":4322,"v":-0.0068,"c":"Z"},{"s":4367,"v":-0.0132,"c":"Z"},{"s":4413,"v":-0.0026,"c":"Z"},{"s":4458,"v":0.0124,"c":"Z"},{"s":4503,"v":0.0241,"c":"Z"},{"s":4549,"v":0.0167,"c":"Z"},{"s":4594,"v":0.0038,"c":"Z"},{"s":4640,"v":0.0103,"c":"Z"},{"s":4685,"v":0.0017,"c":"Z"},{"s":4730,"v":-0.0026,"c":"Z"},{"s":4776,"v":-0.009,"c":"Z"},{"s":4821,"v":-0.0175,"c":"Z"},{"s":4866,"v":-0.009,"c":"Z"},{"s":4912,"v":0.0103,"c":"Z"},{"s":4957,"v":0.0177,"c":"Z"},{"s":5002,"v":0.0081,"c":"Z"},{"s":5047,"v":-0.009,"c":"Z"},{"s":5093,"v":0.0017,"c":"Z"},{"s":5138,"v":0.0252,"c":"Z"},{"s":5184,"v":0.0167,"c":"Z"},{"s":5229,"v":-0.0068,"c":"Z"},{"s":5274,"v":-0.0218,"c":"Z"},{"s":5320,"v":-0.0026,"c":"Z"},{"s":5365,"v":0.0167,"c":"Z"},{"s":5397,"v":0.0188,"c":"Z"},{"s":5433,"v":0.0081,"c":"Z"},{"s":5478,"v":-0.0132,"c":"Z"},{"s":5515,"v":-0.0175,"c":"Z"},{"s":5569,"v":-0.0154,"c":"Z"},{"s":5660,"v":-0.0122,"c":"Z"},{"s":5750,"v":-0.0122,"c":"Z"}
]
},
"columns":2,
"spacing":{"row":114,"column":146},
"bounds":"flush",
"resolve":{"scale":{"color":"independent"},"legend":{"color":"independent"}},
"concat":[
{"title":{"text":"Marker LHand Thumb","offset":-66},"width":441,"height":181,"data":{"name":"p1"},"mark":{"type":"line","strokeWidth":2.5,"clip":true},
"encoding":{
"x":{"field":"s","type":"quantitative","scale":{"domain":[0,6000],"nice":false},"axis":{"values":[0,2000,4000,6000],"format":"d","title":"sample","gridColor":{"condition":{"test":"datum.value <= 0 || datum.value >= 6000","value":"#262626"},"value":"#e3e3e3"}}},
"y":{"field":"v","type":"quantitative","scale":{"domain":[-0.0316,0.04],"nice":false,"zero":false},"axis":{"values":[-0.02,0,0.02,0.04],"title":"(RealM-VirtualM)[m]","labelExpr":"datum.value < 0 ? '-' + format(-datum.value, '~g') : format(datum.value, '~g')","gridColor":{"condition":{"test":"datum.value >= 0.0399","value":"#262626"},"value":"#e3e3e3"}}},
"color":{"field":"c","type":"nominal","scale":{"domain":["X","Y","Z"],"range":["#ff0000","#0000ff","#00ff00"]},"legend":{"orient":"none","legendX":368,"legendY":-73,"title":null,"zindex":1}}}},
{"title":{"text":"Marker LHand Middle Finger","offset":-60},"width":441,"height":181,"data":{"name":"p2"},"mark":{"type":"line","strokeWidth":2.5,"clip":true},
"encoding":{
"x":{"field":"s","type":"quantitative","scale":{"domain":[0,6000],"nice":false},"axis":{"values":[0,2000,4000,6000],"format":"d","title":"sample","gridColor":{"condition":{"test":"datum.value <= 0 || datum.value >= 6000","value":"#262626"},"value":"#e3e3e3"}}},
"y":{"field":"v","type":"quantitative","scale":{"domain":[-0.05,0.05],"nice":false,"zero":false},"axis":{"values":[-0.05,0,0.05],"title":"(RealM-VirtualM)[m]","labelExpr":"datum.value < 0 ? '-' + format(-datum.value, '~g') : format(datum.value, '~g')","gridColor":{"condition":{"test":"abs(datum.value) >= 0.0499","value":"#262626"},"value":"#e3e3e3"}}},
"color":{"field":"c","type":"nominal","scale":{"domain":["X","Y","Z"],"range":["#ff0000","#0000ff","#00ff00"]},"legend":{"orient":"none","legendX":383,"legendY":-67,"title":null,"zindex":1}}}},
{"title":{"text":"Marker LHand Pinky Finger","offset":-43},"width":441,"height":181,"data":{"name":"p3"},"mark":{"type":"line","strokeWidth":2.5,"clip":true},
"encoding":{
"x":{"field":"s","type":"quantitative","scale":{"domain":[0,6000],"nice":false},"axis":{"values":[0,2000,4000,6000],"format":"d","title":"sample","gridColor":{"condition":{"test":"datum.value <= 0 || datum.value >= 6000","value":"#262626"},"value":"#e3e3e3"}}},
"y":{"field":"v","type":"quantitative","scale":{"domain":[-0.05,0.055],"nice":false,"zero":false},"axis":{"values":[-0.05,0,0.05],"title":"(RealM-VirtualM)[m]","labelExpr":"datum.value < 0 ? '-' + format(-datum.value, '~g') : format(datum.value, '~g')","gridColor":{"condition":{"test":"datum.value <= -0.0499","value":"#262626"},"value":"#e3e3e3"}}},
"color":{"field":"c","type":"nominal","scale":{"domain":["X","Y","Z"],"range":["#ff0000","#0000ff","#00ff00"]},"legend":{"orient":"none","legendX":394,"legendY":-50,"title":null,"zindex":1}}}},
{"title":{"text":"Marker RHand Thumb","offset":-31},"width":441,"height":181,"data":{"name":"p4"},"mark":{"type":"line","strokeWidth":2.5,"clip":true},
"encoding":{
"x":{"field":"s","type":"quantitative","scale":{"domain":[0,6000],"nice":false},"axis":{"values":[0,2000,4000,6000],"format":"d","title":"sample","gridColor":{"condition":{"test":"datum.value <= 0 || datum.value >= 6000","value":"#262626"},"value":"#e3e3e3"}}},
"y":{"field":"v","type":"quantitative","scale":{"domain":[-0.0276,0.04],"nice":false,"zero":false},"axis":{"values":[-0.02,0,0.02,0.04],"title":"(RealM-VirtualM)[m]","labelExpr":"datum.value < 0 ? '-' + format(-datum.value, '~g') : format(datum.value, '~g')","gridColor":{"condition":{"test":"datum.value >= 0.0399","value":"#262626"},"value":"#e3e3e3"}}},
"color":{"field":"c","type":"nominal","scale":{"domain":["X","Y","Z"],"range":["#ff0000","#0000ff","#00ff00"]},"legend":{"orient":"none","legendX":414,"legendY":-38,"title":null,"zindex":1}}}},
{"title":{"text":"Marker RHand Middle Finger","offset":-50},"width":441,"height":182,"data":{"name":"p5"},"mark":{"type":"line","strokeWidth":2.5,"clip":true},
"encoding":{
"x":{"field":"s","type":"quantitative","scale":{"domain":[0,6000],"nice":false},"axis":{"values":[0,2000,4000,6000],"format":"d","title":"sample","gridColor":{"condition":{"test":"datum.value <= 0 || datum.value >= 6000","value":"#262626"},"value":"#e3e3e3"}}},
"y":{"field":"v","type":"quantitative","scale":{"domain":[-0.1,0.05],"nice":false,"zero":false},"axis":{"values":[-0.1,-0.05,0,0.05],"title":"(RealM-VirtualM)[m]","labelExpr":"datum.value < 0 ? '-' + format(-datum.value, '~g') : format(datum.value, '~g')","gridColor":{"condition":{"test":"datum.value >= 0.0499 || datum.value <= -0.0999","value":"#262626"},"value":"#e3e3e3"}}},
"color":{"field":"c","type":"nominal","scale":{"domain":["X","Y","Z"],"range":["#ff0000","#0000ff","#00ff00"]},"legend":{"orient":"none","legendX":400,"legendY":-57,"title":null,"zindex":1}}}},
{"title":{"text":"Marker RHand Pinky Finger","offset":-27},"width":441,"height":182,"data":{"name":"p6"},"mark":{"type":"line","strokeWidth":2.5,"clip":true},
"encoding":{
"x":{"field":"s","type":"quantitative","scale":{"domain":[0,6000],"nice":false},"axis":{"values":[0,2000,4000,6000],"format":"d","title":"sample","gridColor":{"condition":{"test":"datum.value <= 0 || datum.value >= 6000","value":"#262626"},"value":"#e3e3e3"}}},
"y":{"field":"v","type":"quantitative","scale":{"domain":[-0.068,0.05],"nice":false,"zero":false},"axis":{"values":[-0.05,0,0.05],"title":"(RealM-VirtualM)[m]","labelExpr":"datum.value < 0 ? '-' + format(-datum.value, '~g') : format(datum.value, '~g')","gridColor":{"condition":{"test":"datum.value >= 0.0499","value":"#262626"},"value":"#e3e3e3"}}},
"color":{"field":"c","type":"nominal","scale":{"domain":["X","Y","Z"],"range":["#ff0000","#0000ff","#00ff00"]},"legend":{"orient":"none","legendX":411,"legendY":-34,"title":null,"zindex":1}}}}
]
}
